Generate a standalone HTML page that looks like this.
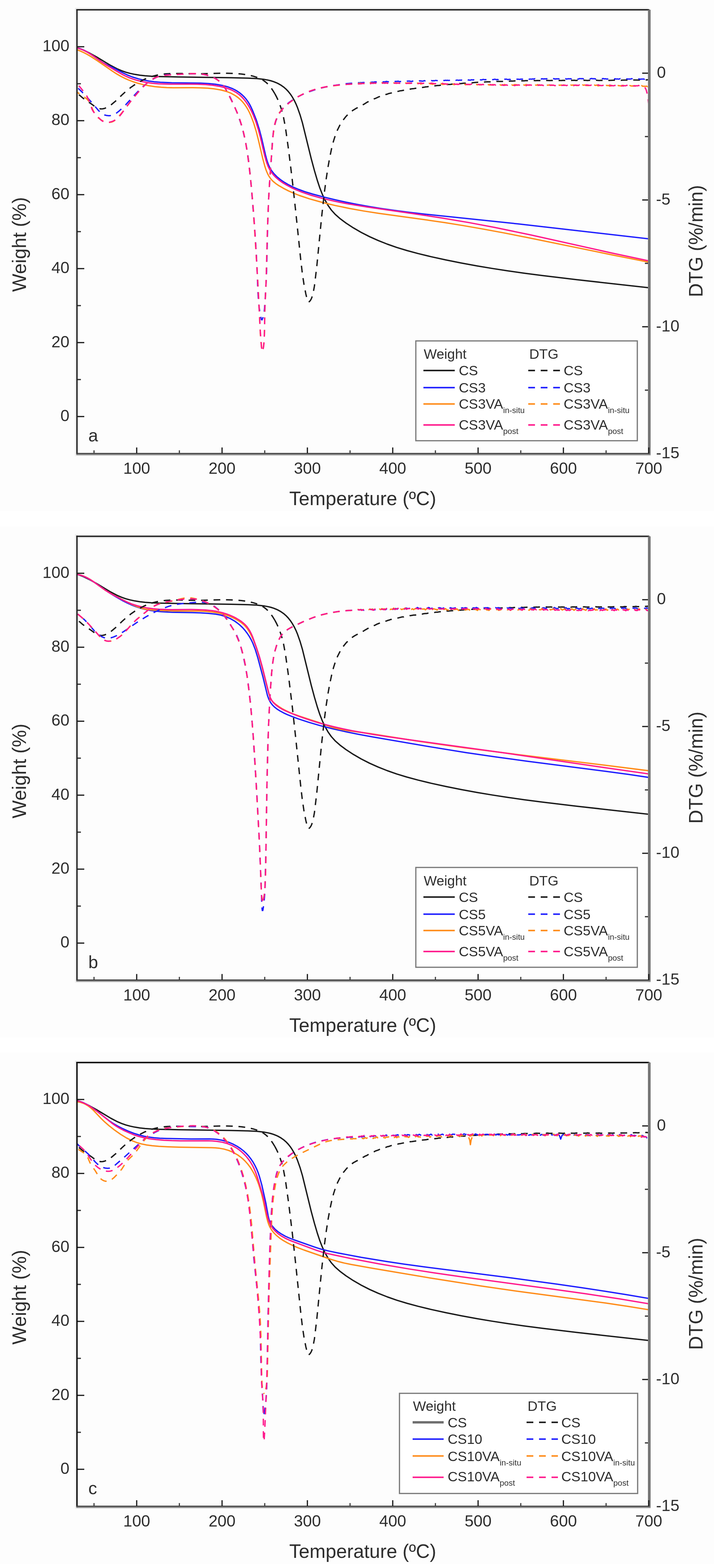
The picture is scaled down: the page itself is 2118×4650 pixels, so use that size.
<!DOCTYPE html>
<html><head><meta charset="utf-8"><title>TGA/DTG</title>
<style>
html,body{margin:0;padding:0;background:#fff}
body{width:2118px;height:4650px;overflow:hidden}
svg{display:block}
text{font-family:"Liberation Sans",Arial,sans-serif;fill:#2e2e2e}
.tl text{font-size:48px}
.at{font-size:57px}
.pl{font-size:52px}
.lg{font-size:41px}
.sub{font-size:24px}
</style></head><body>
<svg width="2118" height="4650" viewBox="0 0 2118 4650">
<defs><clipPath id="clip"><rect x="230" y="31" width="1692" height="1312"/></clipPath></defs>

<g transform="translate(0,0)">
<rect x="0" y="0" width="2118" height="1516" fill="#fdfdfd"/>
<rect x="222.3" y="23" width="1700" height="4" fill="#ececec"/>
<rect x="230.3" y="31" width="1692" height="4" fill="#ececec"/>
<rect x="222.3" y="27" width="4" height="1322" fill="#ececec"/>
<rect x="230.3" y="31" width="4" height="1312" fill="#ececec"/>
<rect x="222.3" y="1350" width="1708" height="3" fill="#f0f0f0"/>
<g clip-path="url(#clip)" fill="none" stroke-linejoin="round">
<path d="M228.3 141.3L247.0 148.4L266.6 157.9L285.8 168.5L328.4 194.1L349.2 204.9L361.0 209.9L373.1 214.1L386.0 217.6L400.0 220.6L414.8 222.9L430.7 224.7L448.3 226.0L468.4 226.9L529.9 228.3L685.6 230.4L735.8 231.7L761.8 233.0L784.4 235.6L794.2 237.4L803.3 239.5L811.6 242.1L819.7 245.3L827.1 248.9L833.8 252.8L841.3 258.1L848.4 264.2L854.9 271.0L861.1 278.7L867.0 287.5L872.6 297.2L877.7 307.6L882.6 319.3L890.0 340.3L897.1 364.3L923.2 470.5L932.7 505.8L941.3 535.0L948.7 557.3L956.2 576.4L964.3 593.6L972.9 608.8L982.9 623.0L993.9 635.2L1008.1 647.8L1026.2 661.3L1048.3 675.8L1071.5 689.2L1096.3 701.9L1122.1 713.4L1148.9 724.0L1177.1 733.8L1207.2 743.0L1240.1 751.9L1278.1 761.1L1322.2 770.8L1368.3 780.0L1416.0 788.7L1460.3 796.1L1506.5 803.2L1555.4 810.2L1607.7 817.1L1709.6 829.3L1924.5 853.2" stroke="#1a1a1a" stroke-width="4"/>
<path d="M228.3 141.9L235.4 143.7L242.6 146.2L249.5 149.3L257.0 153.2L270.1 161.4L299.5 182.2L307.4 187.1L314.7 191.1L339.8 202.9L365.1 216.3L376.5 221.8L393.2 228.5L410.7 233.9L425.5 237.4L441.0 240.3L457.6 242.5L475.8 244.1L509.6 245.6L594.6 246.6L618.2 247.8L639.1 249.8L658.7 253.1L675.4 257.4L690.4 263.2L697.5 266.7L703.9 270.5L711.3 275.6L718.3 281.4L724.9 287.8L730.8 294.8L735.8 301.8L740.5 309.5L745.1 318.5L750.0 329.4L760.3 355.7L769.4 384.5L776.1 410.0L787.7 460.3L792.2 476.9L795.2 485.4L798.2 492.7L801.7 499.6L805.5 505.9L812.7 515.2L821.3 524.0L831.7 532.6L843.3 540.6L856.7 548.4L871.0 555.5L886.6 562.0L904.0 568.3L927.4 575.5L958.7 583.9L991.2 591.8L1024.8 599.3L1058.5 606.0L1093.3 612.2L1129.7 618.1L1168.7 623.7L1212.2 629.4L1259.8 634.9L1535.0 663.8L1924.5 708.3" stroke="#1f1fff" stroke-width="4"/>
<path d="M228.3 147.4L238.5 151.4L248.5 156.0L258.6 161.2L269.4 167.5L288.7 180.0L334.0 211.4L346.2 219.2L357.8 225.9L369.7 232.1L381.9 237.5L394.9 242.4L408.2 246.7L424.6 250.9L441.8 254.3L459.7 256.9L478.7 258.8L494.7 259.7L512.7 260.2L571.9 260.1L594.3 260.5L616.2 261.6L636.1 263.6L654.9 266.7L671.3 271.0L685.7 276.7L698.4 283.8L705.7 289.0L712.6 294.9L718.9 301.3L724.6 308.2L730.0 315.9L735.2 324.4L740.0 333.7L744.7 344.3L752.8 365.9L760.3 390.7L766.3 414.3L779.2 469.3L785.8 493.7L788.7 502.7L792.0 511.0L795.3 518.1L799.0 524.4L804.4 531.8L810.4 538.1L818.0 544.3L827.6 550.8L841.1 558.6L855.8 566.1L871.3 573.0L887.5 579.5L917.8 589.6L954.3 599.8L994.0 609.4L1036.9 618.2L1078.1 625.6L1123.9 632.8L1269.3 652.8L1320.2 660.3L1373.4 668.9L1429.4 678.6L1493.2 690.4L1563.7 704.2L1819.7 756.7L1924.5 777.4" stroke="#ff8c1a" stroke-width="4"/>
<path d="M228.3 141.9L236.7 144.5L244.8 147.7L253.4 151.7L262.1 156.5L276.3 165.5L303.1 184.6L315.0 192.5L345.0 210.6L361.6 220.1L372.1 225.5L383.2 230.4L394.8 234.7L406.6 238.3L420.9 241.9L436.3 244.7L452.3 246.9L470.0 248.4L502.7 249.5L562.9 249.4L586.0 249.7L609.7 250.8L630.8 252.8L652.7 256.3L671.0 260.9L679.4 263.8L687.1 267.0L694.5 270.7L701.1 274.6L708.6 280.0L715.3 285.7L721.8 292.5L728.1 300.2L734.3 309.0L740.1 318.6L745.7 329.1L751.0 340.6L759.3 361.6L766.8 385.7L772.9 409.1L784.9 460.8L789.7 477.9L792.8 487.0L796.2 495.3L799.7 502.3L803.7 509.1L810.2 517.6L818.0 525.8L827.4 533.9L838.0 541.5L850.9 549.3L864.6 556.6L879.6 563.5L895.8 569.9L922.7 579.0L955.4 588.1L990.7 596.4L1029.3 604.1L1088.4 613.8L1225.3 633.4L1310.6 646.5L1391.3 660.1L1467.7 674.5L1574.6 696.8L1816.7 750.7L1924.5 773.6" stroke="#ff1a8c" stroke-width="4"/>
<path d="M228.3 273.4L235.1 281.5L243.7 289.1L251.6 295.0L269.8 307.4L283.1 317.2L288.3 320.2L293.6 322.0L299.0 323.0L304.4 322.8L310.2 321.5L316.7 318.8L323.3 315.1L330.8 309.9L342.6 300.0L364.1 279.4L374.6 270.0L387.5 259.7L400.7 250.5L414.0 242.5L427.4 235.7L440.6 230.2L454.2 225.7L466.1 222.8L478.7 220.6L492.0 219.1L506.9 218.1L530.0 217.9L589.7 218.9L652.3 217.3L674.1 217.2L702.8 218.3L715.6 219.4L727.9 221.1L739.8 223.2L751.0 225.9L760.7 228.8L769.2 232.0L776.4 235.5L782.7 239.4L788.3 243.6L793.8 248.6L799.3 254.6L804.6 261.3L810.3 269.7L815.5 278.2" stroke="#1a1a1a" stroke-width="4" stroke-dasharray="20 17" stroke-dashoffset="27.4"/>
<path d="M815.5 278.2L820.8 288.3L825.6 298.6L830.1 310.1L834.1 321.8L837.7 334.1L841.0 347.6L846.8 378.6L856.2 445.7L866.9 533.1L877.0 625.2L892.4 773.1L896.8 810.4L901.6 842.6L907.2 871.6L912.1 891.9L913.6 894.9L915.3 895.7L917.7 894.5L920.4 891.4L922.8 887.5L925.0 882.5L929.2 867.5L932.7 848.3L939.8 789.3L954.1 643.0L962.1 571.7L967.3 532.7L972.9 496.1L978.1 467.0L983.5 441.1L988.9 419.9L994.6 401.8L1001.0 385.6L1008.2 371.2L1016.8 357.5L1025.7 346.1L1034.7 336.7L1040.4 331.9L1046.8 327.3L1054.4 322.6L1079.4 309.2L1088.7 303.4L1102.5 296.5L1109.8 293.1L1113.9 291.8L1123.6 287.2L1144.3 280.3L1148.5 279.3L1152.8 277.5L1169.2 273.9L1173.5 272.3L1183.2 270.4L1186.7 269.3L1190.6 269.0L1203.8 266.6L1208.3 265.2L1212.2 265.0L1222.1 263.3L1225.5 263.1L1242.4 260.1L1246.8 260.1L1260.2 258.3L1263.7 257.5L1267.7 257.4L1271.7 256.5L1277.6 255.9L1281.6 255.9L1292.5 254.2L1298.5 253.5L1302.4 253.5L1306.4 252.7L1315.9 252.2L1327.3 250.5L1336.7 250.3L1340.7 249.5L1344.7 249.6L1361.6 247.6L1366.6 247.9L1375.5 246.8L1379.5 246.8L1383.0 246.1L1387.0 246.2L1396.4 245.4L1400.9 245.7L1404.4 245.0L1417.4 244.0L1421.9 244.3L1425.8 243.8L1435.3 243.7L1439.3 242.9L1446.3 242.6L1456.2 242.8L1460.2 242.1L1470.2 241.9L1473.7 241.4L1490.7 241.4L1495.2 240.7L1512.1 240.7L1516.1 240.3L1520.1 240.6L1529.6 239.7L1541.1 240.1L1550.6 239.4L1554.6 239.8L1558.5 239.3L1564.5 239.2L1575.5 239.6L1579.5 239.1L1585.5 238.9L1589.5 239.2L1593.0 238.8L1610.0 239.1L1614.5 238.4L1631.5 239.0L1635.5 238.6L1645.0 238.7L1648.9 238.2L1653.4 238.7L1665.9 238.7L1669.9 238.2L1673.9 238.6L1683.4 238.3L1687.9 238.8L1704.4 238.1L1708.4 238.7L1712.4 238.3L1721.9 238.7L1733.9 238.1L1743.4 238.8L1746.9 238.3L1764.3 238.5L1768.3 238.0L1777.8 238.7L1781.8 238.2L1785.3 238.4L1789.3 238.0L1798.8 238.4L1802.8 238.0L1807.3 238.5L1823.8 237.8L1828.2 238.3L1837.7 237.9L1841.7 238.2L1845.2 237.7L1852.2 237.6L1858.7 237.6L1862.7 238.2L1866.7 237.6L1876.1 237.6L1879.6 237.2L1896.6 237.5L1901.6 236.8L1918.0 237.0L1922.0 236.5L1924.5 236.6" stroke="#1a1a1a" stroke-width="4" stroke-dasharray="20 17" stroke-dashoffset="0.0"/>
<path d="M228.3 258.4L241.7 271.2L255.5 285.5L271.1 302.9L291.5 326.9L297.8 333.3L303.3 337.5L309.7 340.7L316.6 342.6L323.6 343.3L330.7 342.4L337.9 339.8L345.6 335.3L353.5 329.1L362.6 320.8L372.7 310.8L403.2 277.6L414.5 265.8L425.7 255.3L436.7 246.1L446.9 238.8L457.2 232.7L467.1 228.0L477.0 224.7L486.2 222.7L497.1 221.6L530.1 220.8L566.4 219.0L585.7 219.0L602.3 220.6L611.8 222.3L621.1 224.8L629.1 227.7L636.7 231.3L643.4 235.4L649.2 239.8L654.9 245.2L660.7 251.9L666.0 259.2L671.2 267.2L683.6 289.9L695.0 314.0L705.3 339.4L713.9 364.3L721.4 390.6L727.7 417.7L733.1 446.6L738.1 480.7L742.4 520.1L746.2 563.1L754.2 663.3L757.9 714.9L760.7 760.7L762.7 802.8L765.0 864.5L766.9 893.5L768.7 911.2L771.1 927.0L774.8 945.2L775.7 948.4L776.4 949.2" stroke="#1f1fff" stroke-width="4" stroke-dasharray="20 17" stroke-dashoffset="32.0"/>
<path d="M776.4 949.2L777.1 948.9L778.0 947.4L780.2 941.2L782.4 932.4L783.8 923.6L784.8 913.9L788.5 855.6L790.8 804.2L794.1 663.0L796.8 590.1L799.1 550.2L804.4 476.6L807.5 426.3L809.1 408.4L811.0 393.0L814.2 374.7L818.3 359.1L823.5 345.2L829.7 333.5L837.5 322.7L847.1 312.6L858.7 302.9L872.1 293.8L881.3 288.3L891.1 283.2L901.5 278.3L912.1 273.8L934.7 266.0L959.2 259.5L990.0 253.5L1027.0 248.3L1040.9 247.0L1044.8 247.1L1048.3 246.5L1051.8 246.6L1061.3 245.0L1065.7 245.7L1069.2 245.0L1072.7 245.2L1076.2 244.7L1079.7 244.8L1082.7 244.1L1086.7 244.7L1090.7 243.2L1096.7 243.5L1100.7 244.5L1104.2 243.4L1108.2 243.9L1111.7 242.8L1114.7 243.1L1117.7 242.8L1121.2 243.4L1125.2 242.1L1128.7 243.1L1132.2 243.0L1135.2 243.4L1138.7 242.4L1142.7 242.7L1146.2 241.4L1149.7 242.3L1155.7 242.6L1160.2 241.6L1163.7 242.7L1167.2 241.9L1170.2 242.1L1174.2 241.3L1177.2 241.5L1180.7 240.7L1185.2 242.2L1188.2 241.7L1191.7 241.7L1194.7 241.0L1198.2 241.6L1202.2 240.6L1205.7 241.3L1209.7 240.4L1215.7 240.5L1219.7 241.8L1223.2 240.6L1226.7 240.7L1230.2 240.0L1233.2 240.4L1236.7 239.8L1240.7 240.8L1244.7 239.7L1254.2 240.8L1258.2 239.3L1261.7 239.7L1265.2 239.0L1268.7 239.7L1272.2 239.6L1275.2 240.3L1279.2 238.9L1283.1 239.7L1286.1 239.3L1289.1 239.4L1292.6 238.4L1296.6 239.1L1300.1 238.4L1304.6 239.6L1310.1 239.3L1314.1 238.0L1317.6 238.9L1321.1 238.1L1324.6 238.5L1328.1 238.1L1331.1 238.6L1335.1 237.9L1339.1 239.2L1342.6 238.1L1348.5 237.1L1352.5 238.1L1356.0 237.4L1360.0 238.3L1363.0 237.7L1366.5 237.8L1369.5 237.4L1373.5 238.3L1377.5 236.7L1381.0 237.0L1383.5 236.8L1387.5 237.6L1391.0 237.1L1394.5 238.0L1398.4 236.6L1401.9 236.9L1404.9 236.7L1407.9 237.2L1411.9 236.0L1415.9 236.9L1418.9 236.5L1422.4 237.2L1425.9 236.8L1428.9 237.1L1433.4 235.4L1437.4 236.4L1440.3 236.1L1443.3 236.5L1446.8 235.8L1450.8 236.7L1454.3 235.9L1457.8 236.6L1464.3 235.8L1467.8 234.8L1472.3 236.2L1475.3 235.7L1478.3 236.2L1481.7 235.6L1485.2 236.0L1488.7 235.0L1492.7 236.0L1496.7 234.9L1502.2 234.7L1506.7 236.1L1510.2 235.3L1513.7 235.8L1517.1 234.8L1520.6 234.9L1523.1 234.4L1527.1 235.5L1531.6 234.4L1534.6 235.0L1538.1 234.9L1541.6 235.5L1545.1 234.6L1548.6 235.1L1552.6 233.8L1556.0 234.4L1559.0 234.5L1562.0 235.3L1566.0 234.1L1570.0 235.0L1573.0 234.4L1577.0 234.7L1580.0 234.1L1583.5 234.4L1587.0 233.3L1591.0 234.7L1596.9 234.9L1600.9 233.8L1604.4 234.5L1607.9 233.5L1611.9 234.3L1614.9 233.8L1618.4 234.0L1621.4 233.4L1625.9 235.0L1629.4 234.1L1632.3 234.2L1635.8 233.4L1639.3 233.8L1642.8 233.2L1646.8 234.5L1650.3 233.7L1653.3 233.9L1656.3 233.6L1660.3 234.6L1664.3 233.3L1667.8 233.7L1671.3 233.0L1674.3 233.6L1677.7 233.5L1681.2 234.7L1685.2 233.4L1688.7 233.8L1692.2 233.5L1695.2 233.9L1699.2 233.0L1702.7 233.8L1706.7 233.0L1709.7 233.9L1715.7 234.5L1720.2 232.9L1723.6 233.6L1727.1 233.1L1730.6 233.7L1733.6 233.3L1737.1 234.0L1741.1 233.1L1745.1 234.3L1751.1 233.7L1755.1 232.7L1758.6 233.7L1762.1 233.1L1766.1 234.2L1769.1 233.8L1772.6 233.9L1775.6 233.2L1780.1 234.3L1783.6 233.2L1786.5 233.4L1789.5 233.0L1793.5 234.0L1797.0 233.6L1800.5 234.7L1805.0 233.5L1810.5 233.2L1814.5 234.3L1818.5 233.2L1821.5 234.0L1825.0 233.7L1828.5 234.4L1832.0 234.1L1835.0 234.8L1840.0 233.1L1843.0 233.7L1846.0 233.7L1849.0 234.5L1853.0 233.8L1856.5 234.8L1860.5 233.9L1863.5 234.6L1867.0 234.3L1870.0 234.6L1874.0 233.2L1878.0 234.6L1881.0 234.4L1884.5 235.1L1888.0 234.6L1891.5 235.0L1895.0 233.9L1899.0 235.0L1902.5 234.5L1905.5 234.6L1908.5 234.1L1913.0 235.6L1916.0 235.0L1920.0 235.6L1924.5 234.9" stroke="#1f1fff" stroke-width="4" stroke-dasharray="20 17" stroke-dashoffset="10.3"/>
<path d="M228.3 273.4L251.4 288.6L257.3 293.4L262.0 298.3L264.9 302.2L267.7 307.3L275.5 326.2L279.3 333.9L285.0 342.3L291.5 349.4L299.0 355.3L307.5 359.8L316.2 362.4L324.5 363.0L330.6 362.1L336.4 359.8L341.8 356.2L347.8 350.6L363.5 332.1L392.9 294.2L405.3 278.8L418.5 263.7L431.1 250.9L440.6 242.6L449.6 236.2L458.2 231.6L467.7 227.9L475.6 225.7L484.8 224.0L494.7 222.7L506.8 221.8L568.3 218.4L584.7 218.6L598.9 219.9L609.5 221.8L619.0 224.3L628.3 227.8L636.8 231.9L644.9 236.9L652.1 242.3L658.5 248.5L663.9 255.1L668.0 261.3L672.4 269.2L691.4 307.1L702.1 330.7L710.3 352.1L717.7 375.3L724.0 399.9L729.5 426.8L734.5 456.9L738.8 489.2L742.9 525.9L746.6 564.7L750.1 606.9L755.2 681.0L764.0 822.3L767.4 884.6L772.2 990.0L773.8 1010.9L775.7 1028.9L776.9 1035.5L777.7 1037.1L778.6 1037.8" stroke="#ff8c1a" stroke-width="4" stroke-dasharray="20 17" stroke-dashoffset="11.1"/>
<path d="M778.6 1037.8L779.5 1036.9L780.4 1034.6L781.9 1025.9L783.2 1010.9L784.3 990.8L785.0 967.9L785.5 920.4L789.4 833.9L793.3 680.0L796.7 593.0L799.5 544.1L807.0 435.8L808.7 415.5L810.6 398.0L813.8 377.0L817.3 361.1L821.8 347.8L827.4 336.4L834.1 326.9L842.9 317.6L856.6 305.9L871.7 294.7L881.1 288.6L890.7 283.1L900.1 278.2L909.7 273.9L919.9 269.9L930.7 266.3L941.7 263.2L953.8 260.4L968.9 257.4L985.2 254.9L1008.6 252.2L1030.9 250.1L1034.9 249.3L1038.9 249.6L1042.4 249.1L1045.9 249.2L1049.3 248.7L1052.3 248.8L1055.8 247.9L1060.3 248.8L1063.8 247.5L1069.7 246.8L1073.2 248.0L1077.2 247.1L1080.7 248.2L1084.7 246.6L1087.7 246.6L1090.2 245.9L1091.2 246.0L1094.7 247.6L1098.7 245.5L1102.1 246.4L1105.1 246.1L1108.6 247.2L1112.1 246.3L1115.1 247.3L1116.1 247.1L1118.6 245.2L1120.1 244.8L1123.1 245.6L1126.1 245.8L1129.1 246.9L1133.1 245.3L1137.1 246.7L1140.6 245.7L1143.6 246.5L1147.0 245.9L1150.0 246.4L1153.5 244.4L1154.5 244.2L1158.0 246.3L1161.5 246.3L1164.0 246.9L1168.0 245.8L1171.0 246.7L1172.0 246.7L1175.5 245.3L1179.5 246.7L1182.5 246.1L1185.5 246.1L1188.5 245.1L1190.0 245.6L1192.5 247.5L1193.5 247.7L1196.5 246.7L1199.5 247.3L1203.0 246.2L1206.5 246.6L1210.0 245.6L1214.0 247.8L1217.5 246.6L1220.5 246.9L1223.5 246.6L1227.5 248.5L1231.0 247.0L1235.0 247.9L1239.0 246.5L1241.5 247.0L1244.5 247.0L1248.5 249.2L1249.5 249.0L1252.5 247.4L1256.0 248.2L1259.0 247.9L1262.5 248.7L1266.4 247.6L1269.4 248.7L1273.4 247.1L1276.9 248.6L1279.9 249.1L1282.9 250.1L1283.9 249.9L1287.4 248.0L1290.9 249.2L1294.4 248.3L1297.4 249.1L1300.9 248.8L1304.4 249.7L1307.9 248.2L1308.9 248.4L1312.4 250.5L1318.4 250.1L1321.9 248.6L1325.4 249.7L1328.9 248.7L1333.4 250.6L1336.4 250.1L1339.4 250.3L1342.9 249.2L1346.9 251.3L1350.4 249.9L1353.9 250.1L1356.9 249.3L1360.4 250.3L1363.9 249.7L1367.9 252.0L1371.9 250.4L1374.9 250.4L1377.9 249.9L1381.4 251.4L1385.3 249.8L1388.8 251.0L1392.3 250.1L1395.8 251.1L1398.8 251.0L1402.3 252.5L1403.3 252.2L1405.8 250.3L1406.8 249.9L1409.8 250.6L1413.3 250.5L1416.3 251.5L1420.3 250.6L1423.8 252.0L1427.8 250.5L1431.3 251.9L1433.8 251.7L1436.8 252.1L1441.3 249.8L1445.3 251.4L1448.3 251.0L1451.8 252.1L1455.2 251.7L1458.2 252.3L1462.2 250.5L1466.2 252.3L1469.2 251.5L1472.7 251.4L1475.7 250.4L1479.7 252.2L1483.2 251.4L1487.2 252.9L1490.2 251.9L1493.7 251.6L1496.7 250.4L1500.7 252.6L1504.7 251.3L1507.7 251.8L1510.7 251.4L1514.7 252.6L1518.1 251.7L1521.6 253.1L1522.6 252.9L1525.1 251.2L1526.6 250.9L1531.6 251.0L1535.6 253.0L1539.6 251.6L1542.6 252.7L1546.1 251.8L1549.6 252.3L1552.6 251.8L1556.6 252.8L1560.6 250.5L1564.1 251.9L1567.1 252.1L1570.1 253.2L1574.0 251.9L1578.0 252.8L1581.5 251.1L1585.0 252.2L1588.0 252.1L1591.0 252.7L1595.0 250.9L1599.0 253.0L1602.5 252.5L1605.5 253.1L1609.0 252.0L1612.5 252.4L1616.0 250.7L1620.5 253.0L1623.5 252.5L1626.5 252.6L1629.9 251.7L1633.9 253.4L1637.4 252.1L1640.9 252.9L1644.4 251.7L1647.4 251.9L1650.4 251.2L1651.4 251.5L1654.9 253.9L1658.9 252.4L1661.9 252.8L1664.9 252.1L1668.4 253.0L1671.9 251.8L1675.9 253.2L1679.9 251.6L1685.8 252.5L1689.3 254.2L1690.3 254.0L1693.3 252.2L1696.8 252.8L1700.3 251.9L1703.8 252.6L1706.8 252.3L1710.3 253.7L1711.3 253.5L1713.8 251.9L1714.8 251.8L1718.3 253.4L1721.3 253.3L1723.8 253.8L1725.3 253.4L1727.8 252.0L1728.8 252.0L1731.8 252.9L1735.3 251.8L1739.3 253.4L1742.2 253.4L1744.7 254.0L1749.2 252.1L1753.2 253.9L1756.2 253.0L1759.7 253.3L1762.7 252.3L1766.7 253.3L1769.7 252.3L1770.7 252.5L1774.2 254.7L1777.7 253.8L1780.7 253.5L1783.7 252.3L1787.7 254.0L1791.2 252.8L1795.2 253.9L1798.2 253.2L1801.7 253.8L1804.6 253.3L1808.6 255.4L1809.6 255.2L1812.6 253.3L1815.6 253.4L1818.6 252.9L1822.6 254.3L1826.1 253.5L1829.6 255.1L1834.1 253.6L1836.6 254.3L1839.6 254.2L1842.6 255.3L1843.6 255.3L1847.6 253.0L1851.1 254.2L1854.1 253.9L1857.6 255.1L1861.1 254.8L1864.1 255.9L1865.1 255.7L1868.6 253.7L1872.1 255.0L1875.1 254.8L1878.0 255.3L1882.0 253.9L1885.5 255.5L1889.5 254.9L1893.0 256.3L1896.0 255.8L1899.0 255.9L1903.0 253.9L1907.5 256.1L1910.5 255.5L1913.5 256.1L1917.0 255.5L1920.5 256.7L1924.5 255.7" stroke="#ff8c1a" stroke-width="4" stroke-dasharray="20 17" stroke-dashoffset="33.7"/>
<path d="M228.3 247.1L248.8 272.3L253.8 279.2L258.1 285.9L261.4 292.1L264.0 298.1L272.6 322.9L275.4 328.6L278.7 333.3L295.0 351.5L301.5 357.5L305.3 359.9L308.8 361.4L313.1 362.5L317.9 363.0L325.8 362.2L333.9 359.8L341.7 355.7L349.1 350.0L354.7 344.4L360.5 337.4L381.4 308.4L395.6 290.1L409.7 273.6L424.8 257.5L436.6 246.1L447.3 237.7L457.5 231.8L468.8 227.4L480.2 224.6L494.0 222.7L554.5 219.0L568.1 218.5L580.0 218.4L590.4 218.9L600.1 220.0L610.7 222.0L620.2 224.7L629.5 228.3L638.0 232.5L646.1 237.6L653.1 243.2L659.4 249.5L664.6 256.1L672.4 269.4L693.4 311.4L703.1 332.9L710.7 352.4L717.6 374.2L723.6 397.8L728.8 423.1L733.5 452.2L738.4 489.4L743.6 535.1L748.0 581.4L752.2 630.7L756.0 684.0L759.6 743.8L772.4 986.0L775.8 1030.3L776.9 1035.7L777.7 1037.2L778.7 1037.8" stroke="#ff1a8c" stroke-width="4" stroke-dasharray="20 17" stroke-dashoffset="27.9"/>
<path d="M778.7 1037.8L779.6 1037.1L780.4 1035.3L781.9 1028.2L783.0 1016.7L784.0 1000.2L784.7 973.5L785.4 922.3L789.3 836.4L793.3 680.6L797.1 586.4L801.4 514.3L807.0 443.2L809.7 403.5L811.3 387.2L814.1 371.3L817.8 358.0L822.7 346.4L829.3 335.1L837.8 323.8L848.5 312.7L860.7 302.3L874.4 292.7L886.1 285.7L898.2 279.4L910.6 273.8L923.7 268.7L937.0 264.4L951.0 260.7L965.5 257.5L981.2 254.9L999.4 252.5L1025.8 250.1L1035.7 250.0L1039.7 249.3L1043.2 249.4L1047.2 248.6L1050.7 249.0L1056.7 248.9L1060.2 248.0L1064.7 249.1L1068.2 248.4L1071.2 248.5L1074.7 247.4L1078.2 247.6L1081.2 246.7L1085.7 248.6L1089.2 247.7L1092.2 247.8L1095.2 247.0L1099.2 248.2L1102.7 246.7L1106.2 247.2L1110.2 246.1L1113.2 246.7L1116.2 246.6L1120.2 248.5L1124.2 246.6L1127.2 246.8L1130.7 246.1L1134.2 246.9L1137.6 245.9L1141.1 247.0L1145.1 245.8L1148.6 246.9L1151.6 247.0L1154.6 247.8L1159.1 245.5L1162.6 246.2L1166.1 245.6L1169.1 246.6L1172.6 246.4L1175.6 247.3L1180.1 245.8L1184.1 247.2L1186.6 246.8L1190.1 246.8L1193.6 245.2L1197.1 246.4L1201.1 245.9L1205.1 247.6L1207.6 247.1L1211.1 247.2L1214.6 245.7L1218.5 247.3L1222.0 246.3L1225.0 246.6L1228.5 246.0L1232.0 247.1L1235.5 246.7L1239.5 248.4L1243.0 247.0L1249.0 246.0L1253.0 247.6L1257.0 246.7L1260.5 247.7L1264.0 247.1L1267.0 247.9L1270.5 247.5L1274.0 248.7L1278.5 246.5L1281.5 247.0L1284.4 247.0L1287.9 248.5L1291.9 247.9L1294.9 248.9L1299.4 247.6L1302.4 248.3L1305.4 248.1L1308.9 248.7L1312.9 247.0L1316.4 248.5L1319.9 248.5L1323.4 249.6L1326.4 249.0L1329.9 249.4L1333.9 247.6L1337.9 249.1L1340.9 248.9L1343.9 249.3L1347.4 248.3L1351.3 250.0L1354.8 249.5L1358.3 250.5L1361.8 249.4L1364.8 249.3L1368.3 248.2L1372.8 250.5L1375.8 249.9L1379.3 250.4L1382.3 249.8L1386.3 250.8L1389.8 249.9L1393.3 251.0L1397.3 249.5L1402.8 249.6L1407.3 251.9L1410.8 250.8L1414.3 251.4L1418.3 250.4L1421.2 250.9L1424.7 250.4L1428.2 251.6L1432.2 250.1L1435.7 251.3L1438.7 251.5L1441.7 252.6L1445.7 251.2L1449.7 251.6L1453.2 250.3L1456.2 251.3L1459.7 251.5L1462.7 252.5L1466.2 251.1L1467.2 251.0L1469.7 252.2L1471.2 252.5L1473.7 252.1L1477.2 252.5L1480.7 251.3L1484.2 251.8L1487.7 250.6L1492.2 252.9L1497.6 252.9L1501.6 251.6L1505.1 252.8L1508.6 251.8L1512.6 252.4L1515.6 251.6L1519.1 252.1L1522.1 251.6L1526.6 253.9L1530.1 252.7L1533.1 252.6L1536.6 251.6L1540.1 252.5L1543.6 251.7L1547.6 253.1L1551.1 252.1L1554.1 252.6L1557.1 252.5L1561.1 254.0L1565.1 252.0L1568.6 252.3L1571.6 251.6L1575.1 252.6L1578.6 252.5L1582.0 253.9L1586.0 252.2L1589.5 253.0L1592.5 252.8L1595.5 253.3L1600.0 251.7L1603.5 252.6L1607.0 251.9L1610.5 253.4L1613.5 253.4L1616.5 253.9L1621.0 251.7L1624.5 252.9L1628.0 252.4L1631.5 252.8L1634.5 252.1L1638.5 253.1L1641.5 252.3L1646.0 254.1L1649.0 253.2L1652.0 252.9L1655.5 251.4L1659.5 253.0L1663.0 252.4L1666.5 253.4L1669.9 252.8L1672.9 253.3L1676.4 252.5L1680.4 254.0L1684.4 252.2L1687.4 252.2L1689.9 251.7L1693.9 253.4L1697.9 252.9L1701.4 254.1L1705.4 252.5L1708.4 252.8L1711.4 252.4L1714.4 253.5L1715.4 253.5L1718.4 252.0L1719.4 251.8L1722.4 252.8L1725.9 252.7L1728.9 253.8L1732.4 253.3L1735.9 254.0L1740.4 251.7L1743.4 252.6L1746.4 252.7L1749.8 253.6L1753.8 252.4L1757.3 253.7L1760.8 253.0L1764.8 253.9L1767.8 253.2L1770.8 253.3L1774.8 251.5L1778.8 253.5L1781.8 253.4L1784.8 254.0L1788.8 253.1L1792.3 253.9L1795.8 252.7L1799.8 253.9L1802.8 253.0L1805.8 253.0L1809.3 252.3L1813.8 254.6L1816.7 253.9L1820.2 254.4L1823.7 253.3L1827.2 253.5L1830.2 252.7L1834.2 254.4L1838.7 253.2L1841.2 253.7L1844.2 253.6L1848.2 255.2L1851.7 254.0L1855.7 254.4L1859.2 253.0L1862.2 253.6L1865.2 253.7L1869.2 255.4L1873.1 253.9L1876.6 254.9L1879.6 254.5L1883.1 255.2L1886.6 254.1L1890.1 254.8L1894.1 253.4L1897.6 255.1L1900.6 255.5L1903.6 256.4L1907.8 255.6L1914.4 261.3L1917.0 267.3L1920.1 279.4L1921.9 289.9L1924.0 307.5L1924.5 299.8" stroke="#ff1a8c" stroke-width="4" stroke-dasharray="20 17" stroke-dashoffset="33.7"/>
</g>
<rect x="226.3" y="27" width="1700" height="4" fill="#1e1e1e"/>
<rect x="226.3" y="27" width="4" height="1320" fill="#1e1e1e"/>
<rect x="1922" y="29" width="8" height="1321" fill="#767676"/>
<rect x="226.3" y="1343.2" width="1700" height="3.4" fill="#3a3a3a"/>
<rect x="226.3" y="1346.6" width="1703.7" height="3.4" fill="#8a8a8a"/>
<rect x="277.1" y="1335.5" width="3.6" height="8" fill="#444"/>
<rect x="403.7" y="1327" width="3.6" height="17" fill="#1e1e1e"/>
<rect x="530.3" y="1335.5" width="3.6" height="8" fill="#444"/>
<rect x="656.9" y="1327" width="3.6" height="17" fill="#1e1e1e"/>
<rect x="783.5" y="1335.5" width="3.6" height="8" fill="#444"/>
<rect x="910.0" y="1327" width="3.6" height="17" fill="#1e1e1e"/>
<rect x="1036.6" y="1335.5" width="3.6" height="8" fill="#444"/>
<rect x="1163.2" y="1327" width="3.6" height="17" fill="#1e1e1e"/>
<rect x="1289.8" y="1335.5" width="3.6" height="8" fill="#444"/>
<rect x="1416.4" y="1327" width="3.6" height="17" fill="#1e1e1e"/>
<rect x="1543.0" y="1335.5" width="3.6" height="8" fill="#444"/>
<rect x="1669.5" y="1327" width="3.6" height="17" fill="#1e1e1e"/>
<rect x="1796.1" y="1335.5" width="3.6" height="8" fill="#444"/>
<rect x="1922.7" y="1327" width="3.6" height="17" fill="#1e1e1e"/>
<rect x="230" y="1233.5" width="20" height="3.6" fill="#1e1e1e"/>
<rect x="230" y="1123.8" width="10" height="3.6" fill="#333"/>
<rect x="230" y="1014.2" width="20" height="3.6" fill="#1e1e1e"/>
<rect x="230" y="904.5" width="10" height="3.6" fill="#333"/>
<rect x="230" y="794.8" width="20" height="3.6" fill="#1e1e1e"/>
<rect x="230" y="685.1" width="10" height="3.6" fill="#333"/>
<rect x="230" y="575.5" width="20" height="3.6" fill="#1e1e1e"/>
<rect x="230" y="465.8" width="10" height="3.6" fill="#333"/>
<rect x="230" y="356.1" width="20" height="3.6" fill="#1e1e1e"/>
<rect x="230" y="246.5" width="10" height="3.6" fill="#333"/>
<rect x="230" y="136.8" width="20" height="3.6" fill="#1e1e1e"/>
<rect x="1905" y="215.2" width="17" height="3.6" fill="#1e1e1e"/>
<rect x="1913" y="403.2" width="9" height="3.6" fill="#333"/>
<rect x="1905" y="591.2" width="17" height="3.6" fill="#1e1e1e"/>
<rect x="1913" y="779.2" width="9" height="3.6" fill="#333"/>
<rect x="1905" y="967.2" width="17" height="3.6" fill="#1e1e1e"/>
<rect x="1913" y="1155.2" width="9" height="3.6" fill="#333"/>
<g class="tl">
<text x="405.5" y="1405" text-anchor="middle">100</text>
<text x="658.7" y="1405" text-anchor="middle">200</text>
<text x="911.8" y="1405" text-anchor="middle">300</text>
<text x="1165.0" y="1405" text-anchor="middle">400</text>
<text x="1418.2" y="1405" text-anchor="middle">500</text>
<text x="1671.3" y="1405" text-anchor="middle">600</text>
<text x="1924.5" y="1405" text-anchor="middle">700</text>
<text x="206" y="1248.8" text-anchor="end">0</text>
<text x="206" y="1029.5" text-anchor="end">20</text>
<text x="206" y="810.1" text-anchor="end">40</text>
<text x="206" y="590.8" text-anchor="end">60</text>
<text x="206" y="371.4" text-anchor="end">80</text>
<text x="206" y="152.1" text-anchor="end">100</text>
<text x="1948.5" y="230.5">0</text>
<text x="1946" y="606.5">-5</text>
<text x="1946" y="982.5">-10</text>
<text x="1946" y="1358.5">-15</text>
</g>
<text class="at" x="1076" y="1498" text-anchor="middle">Temperature (ºC)</text>
<text class="at" transform="translate(76.5,725) rotate(-90)" text-anchor="middle">Weight (%)</text>
<text class="at" transform="translate(2083.5,715) rotate(-90)" text-anchor="middle">DTG (%/min)</text>
<text class="pl" x="262" y="1309">a</text>
<rect x="1233.5" y="1011" width="657" height="296" fill="#fff" stroke="#7a7a7a" stroke-width="3.6"/>
<text class="lg" x="1257" y="1064.4">Weight</text>
<text class="lg" x="1570" y="1064.4">DTG</text>
<line x1="1256" y1="1098.8" x2="1349" y2="1098.8" stroke="#1a1a1a" stroke-width="4.5"/>
<line x1="1567" y1="1098.8" x2="1662" y2="1098.8" stroke="#1a1a1a" stroke-width="4.5" stroke-dasharray="20 17"/>
<text class="lg" x="1361" y="1113">CS</text>
<text class="lg" x="1672" y="1113">CS</text>
<line x1="1256" y1="1149.5" x2="1349" y2="1149.5" stroke="#1f1fff" stroke-width="4.5"/>
<line x1="1567" y1="1149.5" x2="1662" y2="1149.5" stroke="#1f1fff" stroke-width="4.5" stroke-dasharray="20 17"/>
<text class="lg" x="1361" y="1164.2">CS3</text>
<text class="lg" x="1672" y="1164.2">CS3</text>
<line x1="1256" y1="1198" x2="1349" y2="1198" stroke="#ff8c1a" stroke-width="4.5"/>
<line x1="1567" y1="1198" x2="1662" y2="1198" stroke="#ff8c1a" stroke-width="4.5" stroke-dasharray="20 17"/>
<text class="lg" x="1361" y="1212.4">CS3VA<tspan class="sub" dy="13">in-situ</tspan></text>
<text class="lg" x="1672" y="1212.4">CS3VA<tspan class="sub" dy="13">in-situ</tspan></text>
<line x1="1256" y1="1260.3" x2="1349" y2="1260.3" stroke="#ff1a8c" stroke-width="4.5"/>
<line x1="1567" y1="1260.3" x2="1662" y2="1260.3" stroke="#ff1a8c" stroke-width="4.5" stroke-dasharray="20 17"/>
<text class="lg" x="1361" y="1274">CS3VA<tspan class="sub" dy="13">post</tspan></text>
<text class="lg" x="1672" y="1274">CS3VA<tspan class="sub" dy="13">post</tspan></text>
</g>
<g transform="translate(0,1561.5)">
<rect x="0" y="0" width="2118" height="1516" fill="#fdfdfd"/>
<rect x="222.3" y="23" width="1700" height="4" fill="#ececec"/>
<rect x="230.3" y="31" width="1692" height="4" fill="#ececec"/>
<rect x="222.3" y="27" width="4" height="1322" fill="#ececec"/>
<rect x="230.3" y="31" width="4" height="1312" fill="#ececec"/>
<rect x="222.3" y="1350" width="1708" height="3" fill="#f0f0f0"/>
<g clip-path="url(#clip)" fill="none" stroke-linejoin="round">
<path d="M228.3 141.3L247.0 148.4L266.6 157.9L285.8 168.5L328.4 194.1L349.2 204.9L361.0 209.9L373.1 214.1L386.0 217.6L400.0 220.6L414.8 222.9L430.7 224.7L448.3 226.0L468.4 226.9L529.9 228.3L685.6 230.4L735.8 231.7L761.8 233.0L784.4 235.6L794.2 237.4L803.3 239.5L811.6 242.1L819.7 245.3L827.1 248.9L833.8 252.8L841.3 258.1L848.4 264.2L854.9 271.0L861.1 278.7L867.0 287.5L872.6 297.2L877.7 307.6L882.6 319.3L890.0 340.3L897.1 364.3L923.2 470.5L932.7 505.8L941.3 535.0L948.7 557.3L956.2 576.4L964.3 593.6L972.9 608.8L982.9 623.0L993.9 635.2L1008.1 647.8L1026.2 661.3L1048.3 675.8L1071.5 689.2L1096.3 701.9L1122.1 713.4L1148.9 724.0L1177.1 733.8L1207.2 743.0L1240.1 751.9L1278.1 761.1L1322.2 770.8L1368.3 780.0L1416.0 788.7L1460.3 796.1L1506.5 803.2L1555.4 810.2L1607.7 817.1L1709.6 829.3L1924.5 853.2" stroke="#1a1a1a" stroke-width="4"/>
<path d="M228.3 141.9L237.8 144.2L246.9 147.4L256.0 151.4L265.7 156.5L280.8 166.0L310.0 186.8L324.9 196.8L344.9 209.1L364.5 220.2L378.4 227.2L391.2 233.0L403.2 237.7L415.5 241.7L429.3 245.4L444.4 248.4L460.6 250.8L478.0 252.6L510.1 254.2L570.7 255.2L594.6 255.9L618.3 257.4L639.5 259.7L654.7 262.5L669.0 266.9L683.2 273.0L696.2 280.5L704.3 286.3L712.4 293.0L720.0 300.3L727.3 308.6L733.6 317.0L739.7 326.2L745.1 335.7L750.0 346.0L757.4 365.1L764.7 389.0L779.9 445.8L793.4 501.1L797.7 512.7L802.7 522.0L807.9 528.9L814.1 535.1L821.8 541.2L831.0 547.1L841.2 552.6L852.6 557.9L866.3 563.4L884.2 570.1L915.5 580.4L948.8 590.1L985.9 599.5L1025.7 608.5L1063.9 616.2L1107.6 624.3L1277.4 653.4L1381.3 670.2L1472.5 683.6L1564.0 695.9L1797.6 726.0L1864.3 735.1L1924.5 744.0" stroke="#1f1fff" stroke-width="4"/>
<path d="M228.3 141.9L236.0 143.4L243.4 145.4L250.9 148.3L258.6 151.9L266.3 156.3L275.1 162.0L309.8 187.2L329.4 199.0L362.9 216.9L388.4 229.6L405.2 237.0L420.1 242.2L430.2 244.7L440.1 246.3L452.6 247.5L472.7 248.8L514.3 250.2L590.4 250.5L611.4 251.6L629.7 253.4L641.0 255.2L652.1 257.4L662.6 260.0L672.5 263.0L681.8 266.5L691.0 270.5L700.0 275.0L708.4 280.0L716.0 285.2L722.4 290.4L727.7 295.7L732.8 301.7L737.8 309.0L742.6 317.6L747.9 328.2L752.9 339.5L760.1 358.7L767.4 381.7L776.9 415.9L797.7 496.8L801.0 506.7L804.8 514.0L809.2 519.7L816.1 525.9L826.0 533.2L836.8 540.0L847.7 545.8L859.9 551.5L873.3 557.0L888.5 562.5L942.9 580.1L976.1 592.1L987.6 596.0L1005.7 600.6L1026.3 604.4L1097.9 613.9L1243.1 636.9L1307.2 646.3L1377.0 655.9L1500.7 671.8L1792.3 707.4L1924.5 724.2" stroke="#ff8c1a" stroke-width="4"/>
<path d="M228.3 141.9L236.0 143.4L243.3 145.5L250.8 148.4L258.4 152.0L266.7 156.7L275.5 162.3L312.4 188.7L323.3 195.5L336.2 202.9L359.7 215.6L376.0 223.6L391.3 229.8L407.3 235.0L422.2 238.7L437.7 241.6L453.9 243.7L471.7 245.3L506.3 246.5L566.3 246.1L587.8 246.4L610.2 247.5L629.8 249.5L641.0 251.3L652.0 253.6L662.5 256.3L672.3 259.3L682.1 263.0L691.2 267.0L700.2 271.6L708.7 276.6L715.9 281.5L722.3 286.6L727.9 291.8L732.5 296.9L737.1 303.3L741.2 309.9L745.3 317.8L749.1 326.5L760.5 358.1L769.6 386.1L777.9 415.8L797.7 495.1L801.6 506.9L806.2 515.9L811.5 522.7L818.5 529.3L827.2 535.7L836.9 541.6L847.8 547.0L860.9 552.7L880.3 560.3L900.6 567.7L922.7 575.1L945.4 582.0L968.3 588.3L992.4 594.3L1017.6 600.0L1044.5 605.5L1104.1 616.0L1148.6 622.9L1210.0 631.7L1490.4 670.5L1799.1 715.7L1924.5 733.6" stroke="#ff1a8c" stroke-width="4"/>
<path d="M228.3 273.4L235.1 281.5L243.7 289.1L251.6 295.0L269.8 307.4L283.1 317.2L288.3 320.2L293.6 322.0L299.0 323.0L304.4 322.8L310.2 321.5L316.7 318.8L323.3 315.1L330.8 309.9L342.6 300.0L364.1 279.4L374.6 270.0L387.5 259.7L400.7 250.5L414.0 242.5L427.4 235.7L440.6 230.2L454.2 225.7L466.1 222.8L478.7 220.6L492.0 219.1L506.9 218.1L530.0 217.9L589.7 218.9L652.3 217.3L674.1 217.2L702.8 218.3L715.6 219.4L727.9 221.1L739.8 223.2L751.0 225.9L760.7 228.8L769.2 232.0L776.4 235.5L782.7 239.4L788.3 243.6L793.8 248.6L799.3 254.6L804.6 261.3L810.3 269.7L815.5 278.2" stroke="#1a1a1a" stroke-width="4" stroke-dasharray="20 17" stroke-dashoffset="27.4"/>
<path d="M815.5 278.2L820.8 288.3L825.6 298.6L830.1 310.1L834.1 321.8L837.7 334.1L841.0 347.6L846.8 378.6L856.2 445.7L866.9 533.1L877.0 625.2L892.4 773.1L896.8 810.4L901.6 842.6L907.2 871.6L912.1 891.9L913.6 894.9L915.3 895.7L917.7 894.5L920.4 891.4L922.8 887.5L925.0 882.5L929.2 867.5L932.7 848.7L939.7 789.8L954.2 642.5L962.3 570.7L967.5 531.2L973.1 494.6L978.3 465.6L983.9 439.7L989.3 418.4L995.1 400.4L1001.6 384.3L1009.0 369.9L1017.6 356.3L1026.7 345.0L1038.9 333.0L1048.4 326.2L1053.1 323.3L1064.9 317.1L1073.2 312.0L1078.1 310.1L1082.5 307.2L1094.9 300.2L1099.4 298.3L1103.9 295.5L1112.1 292.8L1116.7 290.2L1124.1 287.1L1133.4 284.2L1137.6 282.1L1146.1 280.1L1150.9 278.2L1154.7 277.3L1158.6 275.7L1166.7 274.4L1172.1 272.6L1176.4 272.2L1192.5 268.1L1197.9 268.0L1206.3 265.7L1210.7 265.4L1215.2 264.2L1218.6 264.0L1227.5 262.5L1232.0 262.6L1236.9 261.0L1248.8 259.4L1252.8 259.5L1257.8 258.3L1266.2 257.8L1271.2 256.3L1287.0 255.4L1292.0 254.1L1297.0 254.0L1304.9 252.6L1308.9 252.7L1312.9 252.1L1317.8 252.2L1326.3 250.4L1330.3 250.7L1334.7 250.1L1343.7 249.6L1347.2 249.0L1351.7 249.2L1360.1 247.6L1365.1 247.9L1368.6 247.4L1373.0 247.4L1381.5 246.3L1386.0 246.6L1391.0 245.4L1399.4 245.6L1403.4 245.2L1406.9 245.3L1411.9 244.3L1420.4 244.3L1424.8 243.5L1428.8 243.9L1440.8 243.3L1445.8 242.2L1450.8 242.8L1459.2 242.1L1463.2 242.4L1466.7 241.9L1471.7 241.9L1479.7 240.9L1485.2 241.7L1497.6 241.0L1501.1 240.5L1505.6 240.9L1513.1 240.2L1519.1 240.9L1523.1 240.2L1535.1 239.6L1539.6 240.2L1544.6 239.5L1553.1 240.0L1557.0 239.4L1561.0 239.5L1565.0 238.9L1574.0 239.7L1578.5 239.0L1583.0 239.3L1591.5 238.8L1595.5 239.0L1599.5 238.5L1605.0 239.4L1613.0 238.5L1617.0 238.9L1621.0 238.5L1625.5 238.8L1634.0 238.4L1638.5 239.2L1647.5 238.3L1655.4 238.3L1659.9 239.0L1667.9 238.4L1672.9 238.9L1677.4 238.2L1689.4 238.5L1693.4 239.1L1698.9 238.2L1706.9 238.6L1711.4 238.1L1714.9 238.6L1719.4 238.3L1727.4 238.9L1732.9 237.9L1736.9 238.4L1749.4 238.7L1753.9 238.2L1758.3 238.7L1766.8 237.8L1771.3 238.5L1774.8 238.3L1778.8 238.6L1787.8 238.0L1792.3 238.6L1796.3 238.0L1800.3 238.0L1805.3 238.5L1809.3 238.2L1813.3 238.6L1821.3 237.7L1826.8 238.4L1831.2 237.8L1834.7 238.1L1847.7 238.2L1852.7 237.2L1861.2 238.0L1865.2 237.6L1869.2 237.9L1873.2 237.4L1881.6 237.5L1886.6 236.8L1891.6 237.6L1903.6 237.2L1907.6 236.5L1912.5 237.0L1921.0 236.3L1924.5 237.0" stroke="#1a1a1a" stroke-width="4" stroke-dasharray="20 17" stroke-dashoffset="0.0"/>
<path d="M228.3 262.1L234.1 264.7L239.4 267.7L244.7 271.5L250.0 275.9L258.9 285.0L280.2 309.6L286.8 316.0L293.6 321.6L301.2 326.4L308.4 329.5L315.4 331.0L322.6 331.0L328.8 330.0L336.0 327.8L343.5 324.7L352.1 320.3L366.8 311.5L406.2 284.4L432.5 268.0L446.9 259.9L460.7 252.8L474.3 246.6L487.2 241.3L498.9 237.2L510.3 233.9L522.0 231.3L534.2 229.3L552.7 227.1L581.4 224.8L593.5 224.3L603.3 224.7L614.8 226.7L620.3 228.5L625.7 230.8L636.4 237.1L647.2 245.6L657.4 255.8L667.1 267.6L676.5 280.9L692.5 305.3L701.2 320.5L707.6 335.7L714.7 358.1L721.8 385.7L727.8 414.0L733.2 445.0L737.9 479.1L742.4 518.3L746.5 562.6L750.5 613.9L761.9 793.1L769.2 933.7L774.6 1060.9L776.7 1123.6L777.6 1136.1L778.2 1139.1L778.7 1140.1" stroke="#1f1fff" stroke-width="4" stroke-dasharray="20 17" stroke-dashoffset="21.9"/>
<path d="M778.7 1140.1L779.6 1138.5L780.6 1133.5L783.2 1113.7L785.0 1092.9L786.3 1069.0L788.7 964.1L792.4 738.1L794.7 646.2L796.7 588.3L799.2 533.9L802.3 482.5L805.8 434.2L808.3 409.4L811.3 388.7L815.3 370.2L820.3 352.9L826.2 337.8L832.3 326.3L835.8 321.4L839.3 317.2L848.0 309.2L855.4 304.0L864.1 299.0L896.4 283.4L924.5 271.6L937.8 266.9L950.3 262.9L972.1 257.4L996.1 253.1L1015.8 250.6L1024.7 250.1L1028.7 249.3L1035.7 248.7L1041.6 248.3L1045.6 249.0L1050.1 247.6L1053.6 248.1L1058.6 248.2L1063.1 246.3L1067.1 247.2L1071.1 246.2L1074.6 247.3L1079.6 248.2L1081.1 247.6L1084.1 245.3L1085.1 245.3L1087.6 246.9L1088.6 247.1L1091.5 246.0L1097.0 245.0L1101.5 246.4L1105.0 244.9L1106.0 245.2L1108.5 247.2L1110.0 247.5L1114.5 245.8L1118.5 243.6L1119.5 243.8L1122.0 245.5L1123.0 245.7L1126.5 244.1L1131.0 245.4L1136.0 245.3L1139.5 244.1L1140.5 244.4L1143.0 246.3L1144.0 246.5L1148.0 243.5L1152.5 243.0L1154.0 243.2L1157.5 244.8L1160.5 243.7L1161.5 243.7L1165.0 245.7L1166.0 245.5L1169.0 243.8L1173.5 243.3L1175.0 243.5L1177.5 244.8L1178.5 244.9L1181.4 242.3L1182.9 241.7L1186.4 243.3L1192.4 244.1L1195.4 243.7L1198.9 245.1L1200.4 244.5L1202.9 242.0L1203.9 241.5L1207.4 242.7L1212.4 243.5L1216.9 241.6L1220.4 243.8L1221.4 244.0L1224.9 242.8L1228.4 243.6L1233.4 243.4L1237.9 240.2L1238.9 240.4L1242.4 243.1L1251.4 242.3L1254.9 243.6L1255.9 243.5L1259.4 241.5L1262.3 242.9L1263.8 243.2L1271.8 240.2L1273.3 240.7L1275.8 243.2L1276.8 243.7L1280.8 242.2L1284.3 243.0L1289.8 242.1L1293.3 240.5L1294.3 240.7L1297.8 243.0L1298.8 242.8L1301.3 241.0L1302.8 240.7L1307.3 241.7L1311.3 243.6L1314.8 241.7L1315.8 241.6L1318.8 242.7L1322.3 240.7L1324.3 240.4L1328.3 240.8L1332.3 243.2L1333.3 242.9L1335.8 240.9L1336.7 240.7L1340.7 242.5L1346.2 242.3L1349.7 241.0L1353.2 242.1L1354.2 241.8L1356.7 239.7L1357.7 239.5L1361.7 241.9L1366.2 243.1L1367.7 242.8L1370.7 240.9L1371.7 240.9L1374.2 242.4L1375.2 242.6L1379.2 240.8L1388.2 241.6L1391.7 239.8L1393.2 240.5L1395.7 243.1L1397.2 243.5L1405.2 240.9L1409.6 241.7L1413.1 239.9L1417.6 242.3L1426.1 240.8L1427.1 241.1L1429.6 243.3L1430.6 243.7L1431.6 243.4L1435.1 241.0L1438.1 241.2L1441.1 240.7L1444.1 241.1L1447.6 240.5L1451.1 243.3L1452.1 243.6L1455.6 241.5L1456.6 241.2L1461.1 241.6L1465.1 242.8L1468.6 240.5L1469.6 240.3L1473.1 241.8L1476.1 240.8L1477.6 240.8L1482.0 242.0L1486.0 244.0L1487.0 243.6L1490.0 240.8L1491.0 240.5L1495.0 241.8L1500.0 241.7L1503.5 240.8L1507.5 242.7L1511.5 240.9L1515.5 243.1L1519.5 243.3L1521.0 242.9L1524.0 240.4L1525.0 240.0L1529.0 242.1L1533.0 241.2L1536.0 242.2L1541.5 243.1L1542.5 243.0L1546.0 241.0L1547.0 241.4L1549.5 243.4L1550.5 243.6L1553.9 241.9L1558.9 240.5L1560.4 240.8L1563.4 242.6L1567.4 241.6L1571.4 243.9L1579.9 241.0L1580.9 241.1L1583.9 243.3L1584.9 243.4L1587.9 241.3L1589.4 241.0L1597.9 243.1L1601.9 242.4L1605.4 244.4L1606.4 244.2L1609.4 241.5L1610.9 241.0L1615.4 241.6L1618.9 243.3L1619.9 243.1L1622.4 241.6L1623.4 241.5L1627.3 243.5L1631.3 242.6L1636.3 242.8L1639.8 243.8L1641.3 243.0L1643.8 240.5L1644.8 240.2L1648.8 242.6L1653.8 243.4L1657.8 242.6L1661.3 244.1L1662.3 243.8L1665.3 241.7L1666.3 241.7L1669.8 243.1L1673.8 242.9L1675.3 242.5L1677.8 240.9L1678.8 240.7L1683.3 244.0L1686.8 243.2L1689.8 243.7L1692.8 243.2L1695.8 243.3L1699.8 240.9L1700.8 241.1L1704.2 243.7L1708.2 242.5L1712.7 242.1L1714.2 242.6L1716.7 244.4L1717.7 244.6L1721.2 242.7L1725.2 243.8L1728.7 242.2L1733.7 241.2L1735.2 241.7L1737.7 244.1L1738.7 244.6L1739.7 244.4L1742.2 242.7L1743.2 242.5L1746.2 243.3L1751.7 243.7L1755.2 242.2L1756.2 242.1L1759.7 243.7L1760.7 243.3L1763.2 241.4L1764.2 241.1L1768.7 242.7L1772.2 244.7L1773.2 244.9L1777.2 242.4L1781.2 243.7L1784.6 242.3L1790.1 242.3L1794.1 243.7L1798.1 241.2L1799.6 241.8L1802.1 243.9L1803.6 244.3L1807.6 244.1L1811.6 242.0L1815.6 243.1L1819.6 241.1L1823.6 243.2L1827.6 243.6L1829.1 243.4L1832.1 241.8L1833.1 241.8L1836.1 244.1L1837.1 244.5L1841.1 242.6L1846.6 241.8L1850.1 242.3L1853.6 241.0L1855.1 241.8L1857.6 244.2L1858.6 244.5L1862.1 243.1L1867.1 241.8L1871.6 243.5L1875.5 241.2L1879.0 242.4L1882.5 241.8L1888.0 241.8L1891.5 244.4L1892.5 244.7L1893.5 244.4L1896.0 241.9L1897.5 241.3L1903.0 241.5L1906.0 242.1L1910.0 241.0L1913.0 242.9L1914.0 243.1L1918.0 241.2L1924.5 243.0" stroke="#1f1fff" stroke-width="4" stroke-dasharray="20 17" stroke-dashoffset="5.4"/>
<path d="M228.3 257.6L243.7 270.5L258.4 284.4L272.6 299.5L293.6 323.4L300.8 330.6L306.0 334.7L311.0 337.6L315.8 339.3L321.2 340.1L329.0 339.6L337.8 337.0L346.9 332.4L356.0 326.3L362.6 320.7L369.1 314.4L392.1 288.5L402.3 278.4L440.7 246.6L448.7 240.7L456.2 236.0L465.9 231.4L476.7 227.9L486.5 225.7L512.6 220.6L536.7 214.2L546.3 212.2L554.0 211.3L561.9 211.3L570.3 212.2L579.3 214.0L590.6 217.1L602.1 221.0L612.8 225.4L622.7 230.2L631.3 235.1L639.6 240.5L647.0 246.2L654.1 252.4L660.4 258.7L666.3 265.4L672.1 273.1L678.1 281.9L691.4 304.0L701.3 323.0L709.4 342.1L716.4 362.7L722.4 385.3L727.7 410.7L732.3 439.4L737.4 478.2L742.3 521.0L746.7 565.7L750.6 613.4L754.3 665.5L759.1 745.1L770.0 947.8L772.5 1003.1L775.2 1082.7L776.8 1102.3L777.8 1107.1L778.4 1108.3L778.9 1108.6" stroke="#ff8c1a" stroke-width="4" stroke-dasharray="20 17" stroke-dashoffset="32.7"/>
<path d="M778.9 1108.6L780.3 1107.0L781.7 1103.2L783.9 1091.9L785.9 1068.9L787.3 1041.6L788.4 1002.7L791.5 781.9L794.8 644.5L797.0 583.2L799.5 528.8L802.4 478.5L805.9 432.6L808.5 407.8L811.8 386.6L816.0 367.6L821.2 350.4L827.0 335.9L833.1 324.9L836.3 320.5L840.2 316.0L849.2 308.0L855.0 304.1L862.0 300.1L906.4 278.7L928.3 270.0L951.3 262.8L967.8 258.7L984.9 255.3L1005.5 252.0L1023.4 250.1L1027.3 249.1L1031.3 249.1L1034.8 248.5L1038.3 249.1L1044.2 248.6L1048.2 246.8L1052.7 248.1L1055.7 247.1L1059.2 247.1L1062.2 245.9L1065.7 247.2L1068.7 246.1L1069.7 246.1L1072.7 248.3L1073.7 248.4L1076.6 246.4L1079.6 245.7L1082.6 243.8L1083.6 244.0L1086.1 246.6L1087.1 247.1L1090.6 244.9L1094.1 246.3L1097.1 244.9L1098.1 244.9L1100.6 246.0L1103.6 244.8L1104.6 245.0L1107.6 247.6L1108.6 247.2L1111.6 243.5L1112.6 243.2L1115.1 243.8L1118.1 243.5L1121.6 246.4L1122.6 246.2L1124.6 244.7L1125.6 244.5L1128.1 246.2L1129.1 246.4L1132.1 243.9L1133.1 243.5L1136.1 244.7L1139.1 244.3L1141.5 245.9L1142.5 246.1L1143.5 245.5L1146.0 242.3L1147.0 242.0L1150.0 244.3L1153.5 244.3L1156.0 246.0L1157.0 246.2L1160.0 244.7L1163.0 245.8L1164.0 245.6L1167.5 242.0L1168.5 242.3L1171.5 244.8L1174.5 244.5L1177.5 245.3L1180.5 242.8L1181.5 242.6L1185.0 245.6L1186.0 245.6L1188.5 244.4L1192.0 246.2L1195.5 244.4L1198.5 244.5L1202.0 241.6L1203.0 242.0L1205.5 245.4L1206.5 246.1L1209.5 245.0L1213.0 245.4L1215.9 243.8L1216.9 244.0L1218.9 245.6L1219.9 245.9L1223.4 243.9L1226.4 246.1L1227.4 246.3L1230.9 243.7L1233.9 243.7L1236.4 242.9L1237.4 243.3L1239.9 246.7L1240.9 247.4L1241.9 247.3L1243.9 245.5L1244.9 245.1L1247.9 246.0L1251.4 244.2L1254.9 245.2L1257.9 244.0L1258.9 244.4L1260.9 246.5L1261.9 246.9L1262.9 246.4L1265.4 243.7L1266.4 243.5L1268.9 244.9L1271.9 245.2L1274.9 247.7L1275.9 247.9L1279.4 245.0L1280.4 245.0L1282.9 246.2L1283.9 245.7L1285.9 243.8L1286.9 243.5L1289.9 245.2L1293.3 245.5L1296.3 247.6L1297.3 247.3L1300.3 244.1L1301.3 244.2L1304.3 246.7L1307.3 246.2L1310.3 247.2L1311.3 247.0L1314.3 244.8L1317.8 246.0L1321.3 243.4L1322.3 243.8L1325.3 247.1L1328.3 247.1L1330.8 247.7L1331.8 247.5L1334.3 244.9L1335.3 244.4L1336.3 244.8L1338.3 246.8L1339.3 247.2L1342.3 245.4L1343.3 245.5L1345.3 246.6L1346.3 246.7L1349.3 245.2L1352.8 246.1L1355.8 244.3L1357.3 245.3L1359.8 248.7L1360.8 248.9L1363.8 246.9L1366.8 246.6L1369.2 244.8L1370.2 244.5L1373.7 246.7L1374.7 246.5L1376.7 245.1L1377.7 245.1L1380.2 247.3L1381.2 247.7L1384.7 245.7L1387.7 246.3L1390.7 245.6L1391.7 246.1L1393.7 248.5L1394.7 249.1L1395.7 248.8L1398.7 245.5L1402.2 246.0L1405.2 244.7L1408.7 246.6L1412.2 245.9L1415.7 248.8L1416.7 248.5L1419.2 245.6L1420.2 245.2L1423.2 246.5L1426.2 246.3L1428.7 248.0L1429.7 248.1L1432.7 245.1L1433.7 244.6L1437.2 246.5L1440.7 245.0L1444.1 247.5L1447.1 247.3L1450.1 248.7L1451.1 248.3L1453.6 244.9L1454.6 244.3L1455.6 244.6L1458.1 246.7L1461.6 246.1L1464.6 247.2L1468.1 245.2L1469.1 245.4L1471.6 247.2L1472.6 247.0L1474.6 245.5L1475.6 245.3L1478.6 248.1L1479.6 248.5L1482.6 247.4L1485.6 247.0L1489.1 243.7L1490.1 244.0L1492.6 246.8L1493.6 247.1L1496.6 245.9L1500.1 247.5L1503.6 246.2L1506.6 247.1L1510.1 245.2L1511.1 245.6L1513.1 248.0L1514.1 248.6L1515.0 248.3L1518.0 245.7L1521.0 245.4L1523.5 244.2L1525.0 244.8L1527.5 247.5L1528.5 247.6L1531.5 246.2L1535.0 248.4L1536.0 248.0L1538.5 245.8L1542.0 246.0L1544.5 245.0L1545.5 245.3L1548.0 247.9L1549.0 248.1L1550.0 247.5L1552.0 245.1L1553.0 244.6L1556.0 245.9L1559.5 245.6L1562.5 247.8L1563.5 247.7L1565.5 246.6L1566.5 246.5L1569.5 248.2L1570.5 247.8L1573.0 244.6L1574.0 244.0L1577.5 245.5L1580.0 245.6L1583.5 247.8L1584.5 247.4L1586.5 245.3L1587.4 244.8L1588.4 245.1L1590.9 247.0L1591.9 246.9L1594.4 245.7L1597.4 247.3L1598.4 247.4L1601.4 246.3L1604.4 247.0L1605.4 246.3L1607.4 243.7L1608.4 243.0L1609.4 243.4L1612.4 246.6L1615.4 246.5L1618.4 247.7L1622.4 245.3L1625.9 247.1L1629.4 244.7L1630.4 245.0L1632.9 247.1L1633.9 247.2L1636.4 245.8L1639.4 245.8L1642.9 243.5L1643.9 244.0L1646.4 247.4L1647.4 248.0L1650.9 246.5L1653.9 247.3L1657.4 245.2L1660.8 245.9L1663.8 244.0L1664.8 244.3L1667.8 247.6L1668.8 247.5L1671.8 245.2L1674.8 245.5L1677.3 244.8L1678.8 245.4L1680.8 247.7L1681.8 248.2L1682.8 247.9L1685.3 245.7L1686.3 245.7L1688.3 246.8L1689.3 246.8L1691.8 244.6L1693.3 244.1L1695.8 245.0L1698.8 244.7L1701.8 247.8L1702.8 248.3L1703.8 247.9L1705.8 245.5L1706.8 244.9L1710.3 246.2L1713.3 245.6L1716.8 247.2L1720.3 245.0L1723.3 246.5L1724.3 246.4L1726.8 243.8L1727.8 243.4L1728.8 243.8L1731.3 246.0L1734.2 246.6L1737.2 248.4L1738.2 248.0L1740.7 244.9L1741.7 244.5L1745.2 246.4L1748.7 244.8L1751.7 246.3L1755.2 245.3L1758.2 246.5L1759.2 246.3L1762.2 243.7L1763.2 244.1L1765.7 247.3L1766.7 247.8L1769.7 247.1L1772.7 247.1L1776.2 244.1L1777.2 244.3L1779.7 246.0L1780.7 245.8L1782.7 244.4L1783.7 244.3L1786.7 247.0L1787.7 247.3L1790.7 246.1L1793.7 246.4L1796.2 244.6L1797.2 244.4L1798.2 245.1L1800.2 247.7L1801.2 248.3L1802.2 247.9L1804.7 245.8L1808.2 245.9L1811.1 244.2L1814.6 245.9L1818.1 245.0L1819.1 245.7L1821.1 248.2L1822.1 248.7L1823.1 248.3L1825.6 246.0L1829.1 245.8L1831.6 244.9L1832.6 245.3L1835.6 247.8L1836.6 247.5L1839.6 244.9L1843.1 246.4L1846.6 244.8L1850.1 246.6L1853.1 246.5L1855.6 248.7L1856.6 249.2L1857.6 248.6L1860.1 245.2L1861.1 244.6L1864.1 245.8L1867.6 245.5L1870.6 247.3L1871.6 247.1L1873.6 245.6L1874.6 245.5L1877.1 247.4L1878.1 247.6L1881.6 245.2L1882.6 245.5L1885.1 247.6L1888.0 247.5L1891.0 248.4L1892.0 247.9L1894.5 244.6L1895.5 244.0L1896.5 244.4L1899.0 246.6L1902.5 246.0L1906.0 248.1L1909.0 247.0L1912.5 248.2L1913.5 247.7L1915.5 245.5L1916.5 245.2L1917.5 245.8L1919.5 248.1L1920.5 248.6L1924.5 247.2" stroke="#ff8c1a" stroke-width="4" stroke-dasharray="20 17" stroke-dashoffset="36.4"/>
<path d="M228.3 257.6L243.7 270.5L258.4 284.4L272.6 299.5L294.0 323.8L300.8 330.7L306.0 334.8L311.0 337.7L315.8 339.4L320.7 340.1L328.5 339.7L337.4 337.1L346.5 332.7L355.9 326.2L362.6 320.7L369.5 314.0L393.2 287.5L404.5 276.3L415.2 267.1L435.7 250.7L445.3 243.6L453.9 238.0L460.3 234.4L467.0 231.4L481.5 226.4L498.7 222.4L526.2 217.7L540.7 215.7L552.6 214.6L563.5 214.2L573.8 214.5L583.5 215.7L592.6 217.5L602.1 220.3L611.4 224.0L621.4 228.8L631.0 234.5L640.7 241.3L649.7 248.7L657.8 256.4L665.5 264.8L672.7 274.1L679.9 284.7L692.2 305.2L702.0 324.5L710.2 344.3L717.3 366.0L723.3 389.1L728.5 415.0L733.1 444.2L738.2 484.4L742.9 526.1L747.1 570.4L750.9 617.7L754.6 670.0L769.4 931.5L771.2 972.9L773.4 1038.0L776.1 1095.6L777.1 1107.1L777.8 1109.8L778.7 1110.8" stroke="#ff1a8c" stroke-width="4" stroke-dasharray="20 17" stroke-dashoffset="34.2"/>
<path d="M778.7 1110.8L780.0 1109.6L781.6 1105.7L783.1 1100.1L784.0 1094.5L785.6 1075.1L787.1 1047.4L788.3 1002.0L791.8 768.5L794.9 642.6L797.0 582.3L799.5 528.4L802.5 478.1L805.9 432.2L808.6 407.4L811.8 386.7L816.0 367.7L821.2 350.5L827.0 335.9L833.0 325.0L836.2 320.6L840.1 316.1L849.1 308.2L856.2 303.4L864.1 299.0L905.0 279.7L930.1 269.5L953.6 261.8L976.0 256.5L1000.5 252.4L1026.8 249.4L1030.7 249.4L1034.7 248.6L1039.2 248.9L1047.6 247.8L1052.1 249.0L1056.6 247.6L1062.1 246.8L1065.6 247.3L1068.6 246.4L1070.1 246.8L1072.6 248.3L1073.6 248.4L1077.1 246.9L1082.1 246.5L1086.6 248.0L1090.6 245.2L1094.1 246.2L1097.6 245.5L1100.5 246.1L1103.5 246.2L1106.5 248.0L1107.5 248.2L1112.0 244.8L1115.5 245.6L1118.0 245.5L1121.0 246.0L1125.0 244.4L1129.0 246.2L1132.0 244.8L1133.0 244.7L1136.5 246.2L1141.5 246.6L1142.5 246.3L1145.5 243.5L1146.5 243.1L1150.5 245.1L1154.0 244.4L1157.0 245.1L1160.0 244.8L1163.0 245.9L1164.0 245.7L1166.5 244.0L1167.5 243.8L1171.4 246.0L1176.9 244.2L1180.4 242.6L1181.9 243.1L1184.4 244.9L1185.4 245.0L1188.4 244.0L1192.4 245.6L1197.9 244.6L1201.9 242.9L1205.9 245.3L1206.9 245.1L1209.4 243.3L1210.9 243.0L1215.9 243.4L1219.4 245.0L1223.4 244.0L1226.9 245.7L1227.9 245.4L1231.4 243.0L1235.9 242.7L1237.4 243.1L1240.4 244.9L1241.4 244.7L1243.9 242.9L1244.9 242.8L1248.3 244.4L1251.3 244.0L1254.8 244.4L1257.8 243.8L1261.3 245.0L1265.8 241.6L1266.8 241.8L1269.3 243.2L1274.8 244.7L1275.8 244.7L1278.8 243.3L1282.8 244.9L1286.8 243.0L1290.3 243.9L1295.8 244.0L1299.3 241.8L1300.3 241.6L1303.8 244.4L1304.8 244.8L1307.8 244.3L1310.8 244.6L1313.8 243.8L1317.3 244.3L1321.3 242.0L1325.7 244.5L1334.7 242.8L1338.7 245.5L1339.7 245.4L1342.7 243.8L1346.2 244.5L1349.2 243.4L1352.2 243.1L1355.2 242.2L1356.7 242.7L1359.2 245.1L1360.2 245.5L1364.2 243.6L1369.7 244.0L1373.2 245.1L1377.2 243.2L1381.2 244.6L1384.2 242.9L1385.7 242.6L1390.7 243.9L1394.2 246.2L1395.2 246.1L1398.7 243.6L1402.2 244.7L1405.6 243.9L1408.6 244.1L1411.6 243.5L1415.6 245.1L1419.6 242.9L1423.6 245.2L1428.6 246.1L1429.6 245.8L1433.1 243.6L1437.1 244.8L1440.1 243.3L1441.1 243.3L1444.1 244.7L1449.6 245.7L1450.6 245.5L1454.1 243.6L1455.1 244.0L1457.6 246.2L1458.6 246.5L1461.6 245.3L1464.6 244.9L1467.6 243.9L1471.6 244.9L1475.1 243.7L1479.6 246.7L1485.1 245.5L1488.5 244.3L1489.5 244.6L1492.0 246.3L1493.0 246.5L1496.0 244.6L1497.0 244.3L1500.0 245.2L1503.0 244.8L1506.5 245.4L1509.5 245.0L1510.5 245.4L1513.0 247.6L1514.0 247.9L1518.5 245.0L1523.5 244.9L1527.5 246.1L1531.0 244.7L1535.0 246.7L1538.5 245.5L1539.5 245.4L1544.5 246.4L1548.0 247.8L1549.5 247.2L1552.0 244.7L1553.0 244.4L1556.5 245.8L1559.5 245.6L1563.0 246.4L1566.0 246.3L1569.5 247.9L1573.4 245.4L1574.4 245.5L1577.4 247.1L1582.4 247.0L1586.9 244.7L1587.9 244.9L1590.9 247.0L1594.4 246.2L1598.4 247.8L1603.9 247.8L1607.4 245.3L1608.4 245.1L1612.4 247.7L1615.9 246.5L1621.4 246.1L1625.4 248.0L1629.4 246.8L1633.4 248.8L1636.9 247.1L1642.4 245.4L1643.4 245.7L1645.9 247.9L1646.9 248.3L1650.9 246.7L1654.4 248.0L1657.3 247.6L1660.3 248.0L1663.8 247.0L1667.8 248.9L1668.8 248.5L1671.3 246.3L1672.3 245.9L1677.3 246.9L1681.3 248.9L1685.3 247.5L1688.8 249.0L1693.3 247.1L1698.8 247.5L1702.3 248.7L1705.8 246.2L1706.8 246.0L1710.8 248.4L1716.3 249.1L1720.3 248.1L1723.3 248.9L1724.3 248.5L1726.8 246.4L1727.8 246.1L1731.8 248.2L1736.2 248.6L1737.7 248.4L1740.2 247.1L1741.2 247.0L1744.2 249.2L1745.2 249.5L1748.7 248.2L1752.2 248.7L1755.2 248.0L1758.2 247.9L1761.7 246.0L1762.7 246.3L1765.2 248.8L1766.7 249.6L1769.7 248.7L1772.7 248.6L1775.7 247.9L1779.7 249.2L1783.2 247.3L1784.2 247.4L1786.7 248.7L1787.7 248.8L1790.7 247.5L1795.7 247.0L1797.2 247.5L1800.7 250.3L1801.7 250.2L1804.7 248.2L1808.2 248.6L1811.2 247.8L1814.6 247.9L1817.6 247.0L1821.6 249.3L1822.6 249.1L1825.1 247.3L1826.1 247.0L1835.1 249.9L1836.1 249.6L1839.1 247.3L1840.1 247.3L1843.1 248.2L1847.1 246.7L1852.6 247.9L1856.1 249.5L1857.1 249.3L1859.6 247.2L1860.6 246.9L1863.6 248.5L1865.1 248.9L1870.1 248.3L1874.1 246.7L1877.1 247.8L1878.1 247.8L1880.6 246.3L1881.6 246.2L1885.1 248.6L1887.1 249.0L1891.0 248.7L1895.0 246.3L1899.0 248.3L1903.0 246.6L1906.0 247.2L1909.0 246.9L1912.0 247.5L1915.5 246.2L1916.5 246.4L1919.0 248.7L1920.5 249.3L1924.5 247.2" stroke="#ff1a8c" stroke-width="4" stroke-dasharray="20 17" stroke-dashoffset="34.1"/>
</g>
<rect x="226.3" y="27" width="1700" height="4" fill="#1e1e1e"/>
<rect x="226.3" y="27" width="4" height="1320" fill="#1e1e1e"/>
<rect x="1922" y="29" width="8" height="1321" fill="#767676"/>
<rect x="226.3" y="1343.2" width="1700" height="3.4" fill="#3a3a3a"/>
<rect x="226.3" y="1346.6" width="1703.7" height="3.4" fill="#8a8a8a"/>
<rect x="277.1" y="1335.5" width="3.6" height="8" fill="#444"/>
<rect x="403.7" y="1327" width="3.6" height="17" fill="#1e1e1e"/>
<rect x="530.3" y="1335.5" width="3.6" height="8" fill="#444"/>
<rect x="656.9" y="1327" width="3.6" height="17" fill="#1e1e1e"/>
<rect x="783.5" y="1335.5" width="3.6" height="8" fill="#444"/>
<rect x="910.0" y="1327" width="3.6" height="17" fill="#1e1e1e"/>
<rect x="1036.6" y="1335.5" width="3.6" height="8" fill="#444"/>
<rect x="1163.2" y="1327" width="3.6" height="17" fill="#1e1e1e"/>
<rect x="1289.8" y="1335.5" width="3.6" height="8" fill="#444"/>
<rect x="1416.4" y="1327" width="3.6" height="17" fill="#1e1e1e"/>
<rect x="1543.0" y="1335.5" width="3.6" height="8" fill="#444"/>
<rect x="1669.5" y="1327" width="3.6" height="17" fill="#1e1e1e"/>
<rect x="1796.1" y="1335.5" width="3.6" height="8" fill="#444"/>
<rect x="1922.7" y="1327" width="3.6" height="17" fill="#1e1e1e"/>
<rect x="230" y="1233.5" width="20" height="3.6" fill="#1e1e1e"/>
<rect x="230" y="1123.8" width="10" height="3.6" fill="#333"/>
<rect x="230" y="1014.2" width="20" height="3.6" fill="#1e1e1e"/>
<rect x="230" y="904.5" width="10" height="3.6" fill="#333"/>
<rect x="230" y="794.8" width="20" height="3.6" fill="#1e1e1e"/>
<rect x="230" y="685.1" width="10" height="3.6" fill="#333"/>
<rect x="230" y="575.5" width="20" height="3.6" fill="#1e1e1e"/>
<rect x="230" y="465.8" width="10" height="3.6" fill="#333"/>
<rect x="230" y="356.1" width="20" height="3.6" fill="#1e1e1e"/>
<rect x="230" y="246.5" width="10" height="3.6" fill="#333"/>
<rect x="230" y="136.8" width="20" height="3.6" fill="#1e1e1e"/>
<rect x="1905" y="215.2" width="17" height="3.6" fill="#1e1e1e"/>
<rect x="1913" y="403.2" width="9" height="3.6" fill="#333"/>
<rect x="1905" y="591.2" width="17" height="3.6" fill="#1e1e1e"/>
<rect x="1913" y="779.2" width="9" height="3.6" fill="#333"/>
<rect x="1905" y="967.2" width="17" height="3.6" fill="#1e1e1e"/>
<rect x="1913" y="1155.2" width="9" height="3.6" fill="#333"/>
<g class="tl">
<text x="405.5" y="1405" text-anchor="middle">100</text>
<text x="658.7" y="1405" text-anchor="middle">200</text>
<text x="911.8" y="1405" text-anchor="middle">300</text>
<text x="1165.0" y="1405" text-anchor="middle">400</text>
<text x="1418.2" y="1405" text-anchor="middle">500</text>
<text x="1671.3" y="1405" text-anchor="middle">600</text>
<text x="1924.5" y="1405" text-anchor="middle">700</text>
<text x="206" y="1248.8" text-anchor="end">0</text>
<text x="206" y="1029.5" text-anchor="end">20</text>
<text x="206" y="810.1" text-anchor="end">40</text>
<text x="206" y="590.8" text-anchor="end">60</text>
<text x="206" y="371.4" text-anchor="end">80</text>
<text x="206" y="152.1" text-anchor="end">100</text>
<text x="1948.5" y="230.5">0</text>
<text x="1946" y="606.5">-5</text>
<text x="1946" y="982.5">-10</text>
<text x="1946" y="1358.5">-15</text>
</g>
<text class="at" x="1076" y="1498" text-anchor="middle">Temperature (ºC)</text>
<text class="at" transform="translate(76.5,725) rotate(-90)" text-anchor="middle">Weight (%)</text>
<text class="at" transform="translate(2083.5,715) rotate(-90)" text-anchor="middle">DTG (%/min)</text>
<text class="pl" x="262" y="1309">b</text>
<rect x="1233.5" y="1011" width="657" height="296" fill="#fff" stroke="#7a7a7a" stroke-width="3.6"/>
<text class="lg" x="1257" y="1064.4">Weight</text>
<text class="lg" x="1570" y="1064.4">DTG</text>
<line x1="1256" y1="1098.8" x2="1349" y2="1098.8" stroke="#1a1a1a" stroke-width="4.5"/>
<line x1="1567" y1="1098.8" x2="1662" y2="1098.8" stroke="#1a1a1a" stroke-width="4.5" stroke-dasharray="20 17"/>
<text class="lg" x="1361" y="1113">CS</text>
<text class="lg" x="1672" y="1113">CS</text>
<line x1="1256" y1="1149.5" x2="1349" y2="1149.5" stroke="#1f1fff" stroke-width="4.5"/>
<line x1="1567" y1="1149.5" x2="1662" y2="1149.5" stroke="#1f1fff" stroke-width="4.5" stroke-dasharray="20 17"/>
<text class="lg" x="1361" y="1164.2">CS5</text>
<text class="lg" x="1672" y="1164.2">CS5</text>
<line x1="1256" y1="1198" x2="1349" y2="1198" stroke="#ff8c1a" stroke-width="4.5"/>
<line x1="1567" y1="1198" x2="1662" y2="1198" stroke="#ff8c1a" stroke-width="4.5" stroke-dasharray="20 17"/>
<text class="lg" x="1361" y="1212.4">CS5VA<tspan class="sub" dy="13">in-situ</tspan></text>
<text class="lg" x="1672" y="1212.4">CS5VA<tspan class="sub" dy="13">in-situ</tspan></text>
<line x1="1256" y1="1260.3" x2="1349" y2="1260.3" stroke="#ff1a8c" stroke-width="4.5"/>
<line x1="1567" y1="1260.3" x2="1662" y2="1260.3" stroke="#ff1a8c" stroke-width="4.5" stroke-dasharray="20 17"/>
<text class="lg" x="1361" y="1274">CS5VA<tspan class="sub" dy="13">post</tspan></text>
<text class="lg" x="1672" y="1274">CS5VA<tspan class="sub" dy="13">post</tspan></text>
</g>
<g transform="translate(0,3122)">
<rect x="0" y="0" width="2118" height="1516" fill="#fdfdfd"/>
<rect x="222.3" y="23" width="1700" height="4" fill="#ececec"/>
<rect x="230.3" y="31" width="1692" height="4" fill="#ececec"/>
<rect x="222.3" y="27" width="4" height="1322" fill="#ececec"/>
<rect x="230.3" y="31" width="4" height="1312" fill="#ececec"/>
<rect x="222.3" y="1350" width="1708" height="3" fill="#f0f0f0"/>
<g clip-path="url(#clip)" fill="none" stroke-linejoin="round">
<path d="M228.3 141.3L247.0 148.4L266.6 157.9L285.8 168.5L328.4 194.1L349.2 204.9L361.0 209.9L373.1 214.1L386.0 217.6L400.0 220.6L414.8 222.9L430.7 224.7L448.3 226.0L468.4 226.9L529.9 228.3L685.6 230.4L735.8 231.7L761.8 233.0L784.4 235.6L794.2 237.4L803.3 239.5L811.6 242.1L819.7 245.3L827.1 248.9L833.8 252.8L841.3 258.1L848.4 264.2L854.9 271.0L861.1 278.7L867.0 287.5L872.6 297.2L877.7 307.6L882.6 319.3L890.0 340.3L897.1 364.3L923.2 470.5L932.7 505.8L941.3 535.0L948.7 557.3L956.2 576.4L964.3 593.6L972.9 608.8L982.9 623.0L993.9 635.2L1008.1 647.8L1026.2 661.3L1048.3 675.8L1071.5 689.2L1096.3 701.9L1122.1 713.4L1148.9 724.0L1177.1 733.8L1207.2 743.0L1240.1 751.9L1278.1 761.1L1322.2 770.8L1368.3 780.0L1416.0 788.7L1460.3 796.1L1506.5 803.2L1555.4 810.2L1607.7 817.1L1709.6 829.3L1924.5 853.2" stroke="#1a1a1a" stroke-width="4"/>
<path d="M228.3 141.9L237.8 144.6L247.2 148.2L256.6 152.7L266.5 158.4L283.7 170.3L323.8 201.6L335.8 209.6L348.7 217.2L364.2 225.2L380.6 232.5L397.0 238.8L413.1 244.0L427.1 247.5L441.2 250.1L456.5 252.1L473.9 253.4L493.9 254.2L566.5 255.8L621.6 255.4L632.9 255.9L642.8 256.8L659.0 259.5L675.1 264.1L690.6 270.5L704.9 278.3L714.1 284.5L722.4 291.0L730.4 298.4L737.7 306.4L744.6 315.3L750.9 324.7L756.4 334.6L761.6 345.3L765.7 355.5L769.4 366.3L776.6 392.0L788.6 445.6L795.3 482.9L797.5 492.7L799.5 498.8L801.8 504.2L804.8 509.7L808.4 514.8L815.5 522.9L824.4 530.6L834.8 537.6L846.7 544.2L857.2 549.0L869.9 554.0L930.8 575.4L946.8 580.7L960.7 584.5L977.2 588.4L1002.6 593.7L1071.7 606.7L1146.5 619.0L1199.8 626.9L1258.6 635.0L1509.1 666.8L1652.9 686.3L1725.5 696.7L1794.5 707.2L1860.5 717.8L1924.5 728.6" stroke="#1f1fff" stroke-width="4"/>
<path d="M228.3 145.2L237.1 146.7L245.6 149.3L253.4 152.8L261.4 157.6L268.8 163.2L276.5 170.1L300.4 195.4L310.4 205.1L323.6 216.5L339.3 228.9L357.7 241.9L374.8 252.4L390.8 260.5L406.5 266.6L419.8 270.4L434.9 273.5L451.7 275.8L471.2 277.5L499.8 279.0L531.3 280.1L627.3 281.4L638.7 281.9L649.1 282.9L664.3 285.6L678.0 289.6L691.7 295.4L705.0 303.0L713.1 308.8L721.1 315.5L728.4 322.7L735.5 330.8L742.0 339.4L748.1 348.9L754.0 359.3L759.2 370.1L763.7 380.7L767.9 392.0L775.5 416.6L781.2 440.5L790.8 487.0L794.4 500.9L797.0 508.6L799.7 515.0L802.7 520.7L806.3 526.4L812.7 534.4L820.6 542.3L829.8 549.8L840.6 557.0L853.4 564.3L867.9 571.3L883.5 578.1L901.7 585.0L979.4 612.0L1003.7 619.3L1021.1 623.6L1041.1 627.8L1105.5 639.3L1277.8 668.3L1429.1 692.0L1548.0 709.1L1795.3 742.1L1863.5 752.2L1924.5 762.1" stroke="#ff8c1a" stroke-width="4"/>
<path d="M228.3 141.9L239.1 145.3L249.3 149.5L260.0 154.9L270.6 161.3L289.2 174.6L331.6 208.5L342.9 216.5L353.5 223.1L366.7 230.1L384.1 238.0L398.4 243.8L411.2 248.0L427.1 252.0L444.3 255.2L463.6 257.6L486.0 259.4L509.8 260.6L535.6 261.2L616.1 261.0L630.2 261.6L643.1 262.7L659.6 265.4L674.2 269.3L687.4 274.5L700.0 281.4L708.3 287.0L716.5 293.7L723.9 300.6L731.2 308.5L737.5 316.4L743.5 325.2L748.9 334.2L753.7 344.0L758.9 356.4L763.8 370.5L778.6 420.2L783.5 439.5L791.0 477.0L795.0 492.0L798.0 500.5L801.4 508.2L805.2 515.1L809.7 521.6L817.0 529.6L825.6 537.2L836.0 544.3L847.9 550.9L857.4 555.3L868.6 559.9L938.0 585.6L953.6 590.7L970.4 595.2L1039.7 610.0L1124.0 626.0L1214.5 641.4L1287.9 652.8L1369.4 664.6L1639.4 701.0L1739.3 715.0L1836.9 729.8L1924.5 744.5" stroke="#ff1a8c" stroke-width="4"/>
<path d="M228.3 273.4L235.1 281.5L243.7 289.1L251.6 295.0L269.8 307.4L283.1 317.2L288.3 320.2L293.6 322.0L299.0 323.0L304.4 322.8L310.2 321.5L316.7 318.8L323.3 315.1L330.8 309.9L342.6 300.0L364.1 279.4L374.6 270.0L387.5 259.7L400.7 250.5L414.0 242.5L427.4 235.7L440.6 230.2L454.2 225.7L466.1 222.8L478.7 220.6L492.0 219.1L506.9 218.1L530.0 217.9L589.7 218.9L652.3 217.3L674.1 217.2L702.8 218.3L715.6 219.4L727.9 221.1L739.8 223.2L751.0 225.9L760.7 228.8L769.2 232.0L776.4 235.5L782.7 239.4L788.3 243.6L793.8 248.6L799.3 254.6L804.6 261.3L810.3 269.7L815.5 278.2" stroke="#1a1a1a" stroke-width="4" stroke-dasharray="20 17" stroke-dashoffset="27.4"/>
<path d="M815.5 278.2L820.8 288.3L825.6 298.6L830.1 310.1L834.1 321.8L837.7 334.1L841.0 347.6L846.8 378.6L856.2 445.7L866.9 533.1L877.0 625.2L892.4 773.1L896.8 810.4L901.6 842.6L907.2 871.6L912.1 891.9L913.6 894.9L915.3 895.7L917.7 894.5L920.4 891.4L922.8 887.5L925.0 882.5L929.2 867.5L932.7 848.7L939.7 790.3L954.2 642.5L962.3 570.2L967.6 530.7L973.2 494.1L978.4 465.1L984.0 439.2L989.5 418.0L995.3 400.0L1001.9 383.8L1009.2 369.5L1017.9 355.9L1028.1 343.4L1037.7 334.2L1043.1 329.8L1049.3 325.5L1067.5 315.7L1083.8 306.3L1088.7 304.3L1093.5 301.0L1105.7 294.9L1109.8 293.5L1114.4 291.1L1123.1 288.1L1127.8 285.6L1134.8 283.2L1144.3 280.8L1148.5 278.8L1152.8 278.0L1161.9 274.9L1169.6 273.3L1174.0 272.8L1183.2 269.9L1187.1 269.6L1191.1 268.6L1203.8 266.3L1208.3 266.1L1217.1 263.7L1221.6 263.6L1238.4 261.0L1242.4 260.8L1247.3 259.4L1263.7 258.1L1267.7 257.0L1277.1 256.2L1281.1 255.2L1285.6 255.2L1297.5 254.0L1302.4 252.8L1306.9 252.9L1315.9 251.8L1319.8 251.9L1323.3 251.2L1327.8 251.0L1336.7 249.4L1341.7 249.9L1358.1 248.0L1362.1 248.1L1367.1 247.2L1371.6 247.0L1376.0 247.4L1379.5 246.7L1392.0 245.5L1396.4 245.8L1400.9 245.0L1410.4 245.1L1421.9 243.6L1430.8 244.0L1435.3 243.2L1439.8 243.4L1455.8 242.0L1461.2 242.6L1469.7 241.7L1473.7 241.8L1477.7 241.3L1481.2 241.5L1490.2 240.9L1495.2 241.5L1505.1 240.4L1512.1 240.2L1516.1 240.7L1525.1 240.1L1529.1 240.5L1533.6 239.7L1540.6 239.5L1550.6 240.2L1555.1 239.4L1564.0 239.5L1568.0 239.0L1584.5 239.5L1589.5 238.6L1606.5 239.1L1610.5 238.7L1614.5 239.2L1624.0 238.2L1628.0 238.8L1635.5 239.0L1644.5 238.4L1648.9 238.9L1652.9 238.3L1657.9 238.2L1669.9 239.0L1678.4 238.2L1683.4 238.7L1687.9 238.2L1703.9 238.8L1709.4 237.9L1717.9 238.7L1721.9 238.3L1725.9 238.7L1738.9 238.4L1743.4 237.8L1748.4 238.6L1760.3 238.5L1764.3 238.0L1768.8 238.5L1777.3 238.0L1782.3 238.8L1798.3 237.8L1802.8 238.5L1807.3 238.1L1816.3 238.5L1828.7 237.6L1837.7 238.5L1841.7 237.9L1858.7 237.8L1862.7 237.3L1871.7 238.1L1876.1 237.3L1880.1 237.5L1883.6 237.1L1892.6 237.4L1897.1 236.9L1901.6 237.5L1911.0 236.5L1918.0 236.3L1922.0 236.9L1924.5 236.8" stroke="#1a1a1a" stroke-width="4" stroke-dasharray="20 17" stroke-dashoffset="0.0"/>
<path d="M228.3 269.6L236.6 277.7L261.4 299.9L267.9 306.8L282.8 324.1L291.5 332.3L298.0 336.7L304.8 339.9L312.0 342.0L319.0 342.7L324.3 342.3L329.1 341.2L333.6 339.3L337.7 336.6L370.6 307.9L414.8 268.2L430.7 255.3L444.9 245.0L458.9 236.5L472.7 229.8L485.7 225.1L500.1 221.6L510.0 220.0L520.5 219.0L544.9 218.1L604.5 219.7L611.6 220.4L617.7 221.8L624.1 224.3L631.4 228.4L643.0 236.5L653.3 244.5L660.6 251.1L667.7 258.5L674.3 266.4L680.4 274.7L690.6 291.2L699.8 309.6L708.5 330.6L716.9 355.0L724.5 380.9L730.7 407.0L735.8 433.3L740.0 462.3L744.7 506.9L752.9 608.7L765.0 723.5L769.3 773.6L771.8 823.4L773.9 912.9L775.1 948.2L779.4 1026.6L780.8 1064.3L781.3 1070.7L782.1 1073.1" stroke="#1f1fff" stroke-width="4" stroke-dasharray="20 17" stroke-dashoffset="5.0"/>
<path d="M782.1 1073.1L783.0 1071.1L784.5 1063.7L787.7 1042.7L789.6 1021.8L791.0 998.0L792.2 950.3L795.1 779.1L801.6 547.8L804.5 482.2L806.5 454.3L808.9 428.3L812.7 398.3L816.6 374.3L820.6 357.8L825.6 343.9L828.6 337.8L832.0 331.9L835.6 326.8L840.0 321.5L851.0 310.7L865.4 299.4L874.6 293.1L884.2 287.3L894.1 282.0L904.5 277.0L915.2 272.6L926.4 268.6L937.8 265.1L949.7 262.0L965.7 258.6L982.8 255.8L999.6 253.7L1025.4 251.2L1029.9 251.5L1033.9 250.6L1039.4 250.4L1043.4 250.7L1047.4 249.9L1050.9 250.7L1055.4 249.1L1059.9 248.8L1064.4 250.1L1068.4 248.2L1072.4 249.5L1075.4 248.7L1078.4 248.7L1081.9 248.0L1085.4 249.4L1086.4 249.0L1088.9 246.4L1089.9 246.0L1093.4 247.7L1098.4 248.6L1099.9 248.5L1102.9 246.8L1106.9 248.5L1110.9 246.0L1114.4 247.0L1119.9 247.4L1123.9 244.7L1124.9 244.9L1127.9 247.6L1128.9 247.7L1131.4 246.7L1134.9 246.7L1137.9 245.9L1141.4 246.6L1144.4 244.3L1145.4 243.9L1149.4 246.6L1155.4 245.5L1158.4 244.4L1159.4 244.7L1161.9 246.6L1162.9 246.9L1166.4 244.7L1167.4 244.6L1170.4 245.6L1173.4 244.6L1176.4 244.4L1179.4 243.2L1180.9 243.8L1183.4 246.3L1184.4 246.5L1187.9 244.2L1191.4 244.6L1193.9 244.3L1197.4 245.2L1200.4 243.3L1201.4 243.1L1204.9 245.0L1205.9 244.9L1208.3 243.1L1209.8 242.9L1214.3 243.7L1218.3 245.9L1219.3 245.5L1221.8 243.1L1222.8 242.8L1226.3 244.2L1229.8 243.1L1232.3 243.4L1235.8 242.8L1239.3 244.7L1240.3 244.5L1242.8 242.3L1243.8 241.9L1247.8 244.2L1252.3 244.4L1253.8 244.1L1256.8 242.0L1257.8 242.0L1260.8 243.7L1264.8 241.7L1268.3 243.3L1273.8 244.1L1274.8 243.8L1277.3 241.8L1278.3 241.5L1279.3 242.0L1281.7 244.1L1282.7 244.3L1285.7 242.8L1288.7 242.6L1291.7 241.8L1295.7 243.1L1299.2 241.3L1300.2 241.7L1302.7 244.0L1303.7 244.4L1312.7 241.4L1316.2 243.6L1317.2 243.7L1320.7 241.4L1324.7 242.7L1327.2 242.2L1330.7 242.6L1333.7 241.7L1334.7 242.1L1337.2 244.4L1338.2 244.6L1341.1 242.1L1342.6 241.4L1348.1 241.7L1351.1 242.9L1355.1 241.3L1359.1 243.6L1362.6 241.9L1363.6 241.8L1368.6 242.4L1372.1 243.9L1373.1 243.6L1375.6 241.0L1376.6 240.5L1380.6 242.4L1383.6 242.0L1386.6 242.6L1389.6 242.1L1393.6 244.0L1397.5 241.0L1398.5 241.1L1401.5 242.8L1406.5 242.8L1411.0 240.7L1415.0 243.2L1418.5 241.8L1422.5 243.3L1428.0 243.2L1432.0 240.4L1433.0 240.7L1435.5 243.0L1436.5 243.4L1440.0 242.1L1443.0 242.2L1445.5 241.8L1449.4 243.6L1453.4 241.7L1457.4 244.0L1460.9 242.3L1466.4 240.9L1467.4 241.2L1469.9 243.5L1470.9 243.9L1474.4 241.9L1475.4 242.0L1477.9 243.2L1478.9 243.3L1481.4 242.8L1484.4 243.0L1487.9 241.7L1491.9 244.1L1492.9 243.7L1495.4 241.5L1496.4 241.2L1501.8 242.5L1505.3 244.1L1509.3 242.2L1512.3 243.9L1513.3 244.1L1517.3 241.9L1522.8 242.5L1526.3 244.1L1527.3 243.7L1529.8 241.4L1530.8 241.2L1534.8 243.8L1537.8 243.4L1540.8 243.7L1543.8 242.7L1547.3 244.0L1548.3 243.7L1550.8 241.4L1551.8 241.1L1555.7 243.5L1560.2 243.9L1561.7 243.7L1564.2 242.2L1565.2 242.1L1568.2 244.4L1569.2 244.6L1572.7 242.8L1576.2 243.6L1579.2 243.1L1582.2 243.4L1585.7 241.4L1586.7 241.6L1589.2 244.3L1590.7 245.0L1593.7 243.7L1596.7 243.6L1599.7 243.0L1603.7 244.3L1606.7 242.3L1607.7 242.2L1610.7 244.2L1611.7 244.3L1615.2 243.0L1620.6 242.6L1624.6 245.7L1625.6 245.4L1628.6 243.1L1632.6 243.9L1635.1 243.2L1638.6 243.5L1641.6 242.5L1642.6 242.8L1645.6 245.2L1646.6 245.1L1649.1 243.1L1650.1 242.7L1659.1 245.3L1660.1 244.9L1663.1 242.7L1664.1 242.7L1667.1 244.3L1671.1 242.7L1676.6 243.9L1680.1 245.6L1681.1 245.4L1683.6 243.0L1684.6 242.6L1685.6 242.9L1688.1 244.7L1689.1 244.8L1691.6 244.1L1694.6 244.1L1697.5 242.9L1698.5 243.1L1701.0 244.6L1702.0 244.6L1705.5 242.6L1706.5 242.9L1709.0 244.9L1710.5 245.3L1715.0 245.0L1719.0 242.6L1723.0 245.0L1726.5 243.2L1730.0 244.1L1733.0 244.0L1736.0 244.7L1740.0 243.0L1741.0 243.4L1743.5 245.8L1744.5 246.1L1748.0 244.1L1753.5 243.0L1757.5 244.8L1761.5 243.1L1765.5 245.5L1769.0 244.3L1774.5 243.6L1778.5 246.0L1779.5 245.7L1782.0 243.3L1783.0 242.9L1786.0 244.0L1789.5 243.9L1792.0 244.7L1796.0 244.0L1799.5 246.3L1800.5 246.2L1804.0 243.4L1810.0 244.4L1813.0 245.4L1814.0 245.1L1816.5 243.2L1817.5 243.0L1821.0 245.3L1825.0 244.2L1828.0 245.1L1831.0 245.1L1834.0 246.2L1835.0 245.8L1837.5 243.2L1838.5 242.7L1839.5 243.0L1842.5 245.1L1845.5 244.8L1848.5 245.1L1852.0 244.2L1855.5 246.2L1856.5 246.0L1859.5 244.0L1863.5 246.0L1868.5 245.3L1872.5 243.1L1873.5 243.3L1876.0 245.7L1877.5 246.3L1881.0 244.9L1884.0 245.9L1887.0 245.6L1890.0 246.1L1894.0 244.1L1895.0 244.5L1898.0 247.0L1899.0 247.0L1902.4 245.3L1907.2 245.9L1911.5 249.4L1912.4 249.5L1915.2 248.8L1919.3 252.5L1922.4 252.8L1924.5 254.0" stroke="#1f1fff" stroke-width="4" stroke-dasharray="20 17" stroke-dashoffset="35.4"/>
<path d="M228.3 280.9L231.0 284.5L234.3 287.6L250.7 298.4L254.1 301.2L256.6 304.1L260.3 310.4L266.4 325.0L269.7 331.3L283.0 350.6L291.7 365.1L296.1 371.1L301.0 375.6L306.3 378.8L312.0 380.8L317.4 381.4L320.7 381.0L324.5 379.9L328.1 378.2L331.4 376.0L338.4 370.0L352.9 355.3L361.6 344.6L372.3 327.7L377.0 321.2L381.9 315.7L394.2 303.9L399.8 297.6L407.2 288.2L424.8 263.7L430.5 256.8L436.0 251.0L444.7 243.6L454.6 237.0L465.3 231.5L476.5 227.3L488.6 224.1L502.8 221.8L558.1 217.4L571.6 216.8L583.6 216.9L594.5 217.8L604.8 219.3L615.4 221.9L625.2 225.4L634.7 229.7L643.2 234.8L651.6 241.1L660.2 248.7L668.5 257.4L676.0 266.7L687.0 282.8L697.0 300.8L706.6 321.8L715.2 344.2L722.5 367.5L728.9 392.7L734.5 419.5L739.4 449.6L743.1 477.8L746.4 509.0L756.8 632.3L766.9 730.0L770.2 767.3L772.3 798.5L773.8 833.1L776.1 945.6L777.2 980.7L778.2 991.7L779.7 1000.5L782.1 1008.4L783.2 1010.6L784.1 1011.3" stroke="#ff8c1a" stroke-width="4" stroke-dasharray="20 17" stroke-dashoffset="29.9"/>
<path d="M784.1 1011.3L785.3 1010.2L786.4 1006.7L789.7 990.9L791.8 974.3L793.0 956.1L796.9 763.2L799.3 674.7L805.9 496.2L807.8 463.3L810.4 435.0L813.9 409.1L818.2 385.3L822.4 368.7L827.3 355.3L833.4 343.6L837.0 338.4L840.7 333.9L850.3 324.6L862.2 315.7L877.6 306.4L898.5 295.5L949.0 271.1L958.8 266.8L967.7 263.6L980.3 260.5L995.6 258.5L1019.4 256.6L1023.4 256.7L1027.4 255.8L1032.8 255.4L1037.3 256.0L1040.8 255.1L1044.3 255.8L1047.8 254.6L1051.3 255.1L1054.3 254.5L1057.8 255.2L1061.8 252.6L1062.8 252.7L1065.3 254.1L1068.7 253.8L1072.2 255.2L1075.7 253.6L1078.2 254.8L1079.2 254.7L1082.7 251.6L1083.7 251.8L1086.7 253.7L1089.7 252.8L1092.7 253.6L1095.7 251.1L1096.7 250.9L1100.2 254.2L1101.2 254.2L1103.7 252.8L1107.2 254.2L1110.7 252.1L1113.2 252.5L1114.2 252.3L1116.7 249.8L1117.7 249.6L1118.7 250.3L1120.7 252.8L1121.7 253.4L1124.7 251.9L1128.2 252.5L1131.2 251.0L1132.2 251.3L1134.2 253.1L1135.2 253.4L1138.7 251.0L1142.2 252.8L1143.2 252.4L1145.7 250.1L1146.7 249.9L1149.2 250.4L1151.7 249.3L1153.2 250.1L1155.2 252.8L1156.2 253.5L1157.2 253.2L1159.6 250.9L1160.6 250.9L1163.1 251.9L1166.6 250.2L1170.1 251.3L1173.1 249.4L1174.1 249.6L1176.1 251.3L1177.1 251.7L1178.1 251.2L1180.1 248.9L1181.1 248.4L1184.1 250.1L1187.6 250.4L1190.6 252.7L1191.6 252.4L1194.6 249.4L1195.6 249.4L1198.1 250.7L1199.1 250.2L1201.1 248.4L1202.1 248.1L1205.1 249.6L1208.6 249.0L1211.6 251.0L1212.6 250.7L1215.6 247.8L1216.6 248.0L1219.6 250.6L1222.6 249.8L1225.6 250.7L1226.6 250.3L1229.6 247.7L1233.1 249.1L1236.6 246.5L1237.6 246.9L1240.5 249.8L1243.5 249.3L1246.5 250.1L1250.5 247.1L1251.5 247.5L1253.5 249.6L1254.5 249.9L1258.0 247.6L1261.0 248.6L1264.0 246.9L1265.0 246.7L1268.0 248.0L1271.0 246.3L1272.5 247.0L1275.0 250.2L1276.0 250.4L1279.0 248.2L1282.0 248.2L1285.0 246.1L1286.0 246.1L1289.0 248.2L1290.0 247.9L1292.0 246.1L1293.0 245.9L1296.5 248.2L1299.9 246.3L1302.9 247.4L1305.4 246.6L1306.4 246.7L1309.9 249.8L1310.9 249.3L1313.4 246.2L1314.4 245.7L1317.4 246.4L1320.4 245.0L1321.4 245.3L1323.4 246.7L1324.4 246.9L1327.4 245.7L1330.4 248.2L1331.4 248.4L1334.4 245.6L1335.4 245.4L1338.4 246.9L1341.9 246.4L1344.4 247.8L1345.4 247.5L1347.9 244.5L1348.9 243.9L1352.3 245.9L1355.8 244.5L1359.3 246.9L1362.3 246.3L1365.3 247.8L1366.3 247.6L1368.8 244.4L1369.8 243.8L1370.8 244.1L1372.8 245.9L1373.8 246.2L1376.8 245.0L1379.8 245.9L1382.8 243.7L1383.8 243.6L1386.3 245.7L1387.3 246.1L1390.8 244.3L1393.8 246.9L1394.8 247.2L1397.8 245.8L1400.8 245.7L1404.3 242.4L1405.3 242.7L1408.2 245.6L1409.2 245.5L1411.7 244.0L1415.2 245.5L1418.7 244.2L1421.2 245.7L1422.2 245.8L1425.2 243.8L1426.2 244.1L1428.2 246.2L1429.2 246.8L1430.2 246.4L1433.2 243.6L1436.2 243.6L1439.2 242.3L1443.2 245.7L1446.7 243.9L1450.2 246.1L1451.2 245.8L1453.7 243.9L1457.2 244.5L1460.2 243.2L1461.2 243.5L1463.2 245.5L1464.2 245.7L1465.2 245.1L1467.2 242.6L1468.1 242.0L1471.1 243.6L1474.6 243.4L1477.1 245.4L1478.1 245.8L1481.6 244.0L1484.1 245.6L1485.1 245.8L1486.1 245.1L1488.1 242.6L1489.1 242.0L1492.1 243.4L1495.6 243.2L1498.6 245.1L1499.6 244.8L1502.1 242.2L1503.1 242.1L1506.1 244.8L1507.1 244.8L1509.6 243.7L1513.1 245.3L1516.6 243.6L1519.1 244.5L1520.1 244.4L1523.6 240.8L1524.6 241.1L1527.6 244.2L1530.6 243.8L1534.1 244.9L1537.6 242.8L1541.0 245.1L1542.0 244.8L1544.5 242.7L1545.5 242.9L1547.5 244.4L1548.5 244.7L1551.5 242.9L1555.0 243.1L1558.0 241.1L1559.0 241.5L1561.5 244.9L1562.5 245.6L1566.0 244.0L1568.5 244.8L1569.5 244.8L1572.5 242.9L1576.0 244.0L1579.5 241.8L1580.5 242.3L1582.5 244.5L1583.5 244.9L1587.0 242.4L1590.0 243.3L1593.0 242.7L1594.0 243.2L1596.0 245.5L1597.0 246.1L1598.0 245.8L1600.5 243.4L1601.5 243.3L1603.5 244.4L1604.5 244.4L1608.0 242.0L1611.0 243.1L1613.5 242.4L1614.5 242.4L1618.0 245.7L1618.9 245.3L1620.9 243.1L1621.9 242.5L1625.4 244.4L1628.4 243.8L1631.9 245.4L1635.4 242.6L1636.4 242.7L1638.9 244.2L1639.9 243.8L1641.9 241.8L1642.9 241.4L1646.4 244.0L1649.4 244.2L1652.4 246.1L1653.4 245.9L1655.9 243.0L1656.9 242.6L1660.4 244.9L1663.4 243.3L1664.4 243.2L1666.4 244.3L1667.4 244.4L1670.4 242.8L1673.9 244.5L1677.4 242.1L1678.4 242.5L1680.9 245.6L1681.9 246.1L1684.9 245.2L1687.9 245.4L1691.4 242.5L1692.4 242.7L1694.4 244.4L1695.4 244.7L1697.9 242.9L1698.9 242.6L1702.3 245.2L1705.8 244.0L1708.8 245.0L1712.3 243.3L1713.3 243.9L1715.3 246.4L1716.3 247.0L1717.3 246.6L1719.8 244.3L1723.3 244.4L1726.3 242.7L1727.3 242.9L1729.8 244.7L1730.8 244.6L1732.8 243.5L1733.8 243.6L1736.3 246.4L1737.3 247.0L1738.3 246.7L1740.8 244.6L1744.3 245.1L1746.8 244.1L1747.8 244.3L1750.3 246.5L1751.3 246.6L1754.3 243.6L1755.3 243.3L1758.3 245.0L1761.8 243.7L1765.3 245.8L1768.3 245.3L1771.8 248.0L1772.8 247.6L1775.3 244.3L1776.2 243.8L1779.2 245.2L1782.7 244.6L1785.7 246.3L1786.7 246.0L1788.7 244.3L1789.7 244.1L1793.2 246.6L1796.7 244.7L1797.7 245.0L1800.2 247.1L1803.7 246.6L1806.2 247.5L1807.2 247.1L1809.7 244.0L1810.7 243.3L1811.7 243.7L1814.2 246.0L1815.2 246.1L1817.7 245.2L1821.2 247.1L1824.7 246.0L1827.7 247.7L1828.7 247.4L1830.7 245.5L1831.7 245.1L1832.7 245.6L1834.7 247.7L1836.2 248.0L1838.7 246.5L1842.2 246.3L1845.1 244.1L1846.1 244.5L1849.1 247.7L1850.1 247.6L1852.6 246.4L1856.1 248.8L1857.1 248.7L1859.6 247.1L1863.1 247.4L1866.1 245.3L1867.1 245.6L1870.1 248.7L1871.1 248.5L1874.1 246.0L1877.1 247.0L1880.1 246.3L1881.1 246.7L1884.1 249.2L1887.6 247.5L1891.1 249.9L1892.1 249.5L1895.1 246.5L1898.1 247.0L1900.5 246.3L1902.0 246.9L1904.0 249.1L1905.0 249.6L1906.0 249.2L1908.0 247.3L1909.0 247.0L1912.5 249.2L1915.5 248.1L1919.0 249.7L1922.5 248.3L1924.5 249.5" stroke="#ff8c1a" stroke-width="4" stroke-dasharray="20 17" stroke-dashoffset="22.8"/>
<path d="M228.3 262.1L230.0 267.4L233.0 272.3L237.3 277.1L248.3 287.4L253.0 292.7L258.7 300.3L273.4 322.4L278.6 329.0L283.7 334.5L291.7 341.2L300.4 346.5L309.5 349.9L314.4 351.0L318.8 351.5L323.2 351.5L327.5 350.9L331.7 349.8L336.2 348.0L345.2 342.7L355.7 334.4L367.9 323.1L380.1 310.4L391.8 297.2L413.7 271.3L422.7 261.3L432.2 252.1L441.2 244.9L453.2 237.6L466.3 231.6L481.1 226.9L498.0 223.2L514.9 220.7L536.9 218.3L555.1 216.9L570.5 216.4L583.2 216.7L595.1 217.8L606.2 219.7L616.0 222.4L625.8 226.3L635.2 231.2L644.5 237.4L653.6 244.8L662.5 253.5L670.8 262.9L679.1 273.8L687.0 285.6L696.9 303.2L706.1 322.9L714.2 344.0L721.2 366.4L727.2 390.0L732.4 415.8L736.8 443.8L740.8 475.9L761.5 688.3L766.5 748.0L770.2 801.2L773.6 870.9L776.0 977.9L777.2 999.1L780.1 1036.3L781.0 1052.1L781.3 1130.8L781.8 1149.7L782.5 1156.1" stroke="#ff1a8c" stroke-width="4" stroke-dasharray="20 17" stroke-dashoffset="21.0"/>
<path d="M782.5 1156.1L783.7 1146.5L785.2 1121.4L789.2 1028.8L791.2 971.5L793.5 882.2L797.7 678.0L800.4 582.7L804.0 498.8L808.1 434.0L810.9 408.2L814.5 385.6L819.3 364.7L824.9 346.5L830.2 334.7L836.3 325.1L844.7 315.7L855.8 306.1L864.7 299.4L874.3 293.1L884.2 287.3L894.8 281.9L905.7 277.0L917.3 272.4L929.6 268.2L942.5 264.4L968.3 258.4L996.9 253.6L1021.1 250.9L1025.1 250.1L1031.0 249.8L1034.5 250.2L1038.5 249.1L1042.0 249.5L1046.0 248.2L1048.9 248.5L1051.9 248.2L1055.4 248.9L1059.4 246.9L1063.4 248.6L1066.4 248.1L1069.4 248.5L1072.9 246.8L1076.9 247.7L1080.4 245.2L1081.3 245.5L1083.8 247.6L1084.8 247.9L1087.3 247.5L1090.3 247.9L1093.3 245.7L1094.3 245.6L1097.8 248.4L1098.8 248.2L1101.3 246.3L1102.3 246.2L1104.8 247.1L1108.3 245.7L1111.3 246.5L1114.8 244.6L1115.8 245.1L1118.3 248.3L1119.3 248.8L1122.3 246.9L1125.8 246.8L1128.8 245.5L1131.8 247.2L1132.8 247.3L1136.3 244.9L1139.8 247.2L1140.8 247.0L1143.3 245.5L1146.8 246.1L1149.3 245.6L1150.3 246.0L1152.8 248.6L1153.8 248.8L1154.8 248.2L1156.8 245.8L1157.8 245.3L1160.8 246.2L1164.3 245.0L1167.3 246.2L1170.8 245.0L1171.8 245.5L1173.8 247.5L1174.8 247.8L1175.8 247.3L1177.8 245.2L1178.8 244.8L1181.8 246.4L1184.8 246.3L1187.8 247.6L1188.8 247.4L1191.3 244.7L1192.3 244.1L1195.8 246.0L1196.8 245.8L1198.8 244.5L1199.8 244.4L1202.8 246.2L1205.8 246.0L1209.3 247.6L1213.3 244.0L1214.3 244.3L1216.3 246.1L1217.3 246.5L1220.3 245.5L1223.8 245.7L1226.8 243.9L1227.8 244.2L1229.8 245.8L1230.8 246.1L1234.3 244.1L1235.3 244.5L1237.8 246.9L1238.8 247.1L1241.3 246.2L1244.3 246.0L1247.3 243.4L1248.3 243.2L1251.8 246.1L1252.8 245.9L1255.3 244.2L1256.3 244.2L1258.8 245.4L1262.3 244.5L1265.3 245.7L1266.3 245.5L1268.3 244.1L1269.3 244.0L1272.3 246.9L1273.3 247.1L1276.7 244.2L1279.7 244.0L1282.7 243.0L1286.7 245.6L1290.2 243.7L1291.2 244.1L1293.2 245.8L1294.2 246.1L1297.7 244.2L1300.7 244.6L1303.7 243.7L1304.7 244.1L1306.7 245.9L1307.7 246.1L1308.7 245.5L1310.7 243.0L1312.2 242.4L1315.2 243.9L1318.2 243.5L1321.7 245.3L1325.2 244.0L1328.7 246.0L1329.7 245.5L1332.2 242.7L1333.1 242.4L1335.6 243.6L1339.1 243.6L1342.1 244.9L1343.1 244.5L1346.1 242.0L1347.1 242.3L1349.1 244.2L1350.1 244.7L1353.6 243.4L1356.6 244.8L1360.1 243.9L1363.1 244.8L1364.1 244.2L1366.6 241.3L1367.6 241.0L1370.6 243.7L1371.6 244.1L1374.6 243.5L1377.6 244.1L1381.1 242.6L1384.5 244.8L1385.5 244.5L1387.5 242.8L1388.5 242.4L1391.5 244.4L1392.5 244.5L1395.5 243.0L1398.5 242.8L1401.5 240.9L1402.5 241.1L1405.0 244.2L1406.0 244.8L1407.0 244.6L1409.5 243.1L1412.5 244.1L1413.5 244.0L1416.0 242.9L1419.5 243.7L1423.0 241.5L1424.0 241.9L1426.0 244.0L1427.0 244.4L1431.0 241.8L1434.0 242.3L1436.4 242.0L1437.4 242.4L1440.4 245.0L1441.4 244.8L1443.9 242.6L1444.9 242.6L1447.9 244.1L1451.9 241.7L1454.4 242.3L1457.9 241.7L1461.4 244.6L1462.4 244.3L1464.9 241.7L1465.9 241.4L1468.9 243.3L1472.4 243.1L1474.9 244.2L1476.4 243.9L1478.9 242.0L1479.9 242.2L1481.9 243.5L1482.9 243.6L1485.9 240.9L1486.9 240.6L1489.9 242.6L1492.9 243.0L1496.3 244.6L1497.3 244.1L1499.3 241.9L1500.3 241.5L1501.3 242.0L1503.3 243.8L1504.3 244.0L1507.8 242.3L1510.8 243.2L1514.3 242.1L1517.3 243.3L1518.3 242.8L1520.3 240.9L1521.3 240.7L1522.3 241.3L1524.8 244.2L1525.8 244.6L1528.3 243.7L1531.3 243.9L1534.8 241.7L1535.8 241.8L1537.8 243.4L1538.8 243.6L1542.3 241.3L1543.3 241.6L1545.3 243.3L1546.3 243.7L1549.3 242.6L1552.8 243.0L1555.8 241.6L1556.8 242.1L1559.8 245.3L1560.8 245.1L1563.8 242.7L1566.7 243.1L1570.2 241.7L1573.7 243.0L1576.7 241.5L1577.7 241.9L1580.2 244.6L1581.2 245.0L1584.2 242.8L1585.2 242.5L1587.7 243.1L1590.7 242.6L1593.7 244.7L1594.7 244.9L1597.7 242.0L1598.7 241.6L1601.7 243.3L1602.7 243.2L1605.2 241.9L1606.2 242.0L1608.7 243.2L1611.7 243.0L1615.2 245.6L1616.2 245.4L1618.7 242.5L1619.7 241.9L1623.2 243.4L1626.2 242.9L1629.2 243.9L1633.2 241.9L1636.7 244.2L1637.7 243.9L1639.7 242.3L1640.7 242.1L1644.2 244.4L1647.2 244.3L1649.7 245.1L1651.2 244.4L1653.1 242.0L1654.1 241.3L1655.1 241.5L1658.1 243.9L1661.6 242.6L1664.6 243.9L1668.1 243.2L1671.1 244.7L1672.1 244.5L1675.1 242.2L1676.1 242.6L1678.6 245.2L1679.6 245.4L1682.6 243.8L1685.6 243.5L1688.6 241.6L1689.6 241.8L1692.6 244.4L1693.6 244.3L1695.6 243.0L1696.6 242.9L1700.1 245.3L1703.6 244.0L1706.6 244.1L1709.6 242.3L1710.6 242.6L1713.1 245.2L1714.1 245.5L1717.6 242.7L1721.1 243.4L1723.6 242.8L1724.6 243.1L1727.6 245.0L1731.1 243.5L1734.1 245.9L1735.1 246.1L1738.1 243.4L1739.1 242.9L1741.6 243.3L1744.6 242.8L1748.6 245.4L1749.6 244.9L1751.6 242.9L1752.6 242.6L1756.1 244.8L1759.1 243.8L1762.6 245.0L1766.1 244.1L1769.1 245.8L1770.6 245.1L1773.0 242.0L1774.0 241.8L1777.0 243.8L1780.0 243.9L1783.0 245.4L1784.0 245.3L1787.0 243.5L1788.0 243.8L1790.0 245.5L1791.0 245.7L1794.5 243.2L1798.0 244.9L1801.0 244.3L1804.0 244.8L1808.0 241.8L1809.0 242.2L1811.5 245.1L1812.5 245.5L1815.5 244.5L1819.0 245.5L1822.0 244.2L1825.5 245.2L1829.0 242.5L1830.0 242.7L1832.5 245.3L1833.5 245.6L1836.5 244.2L1839.5 244.4L1842.0 243.3L1843.0 243.3L1846.0 246.2L1847.0 246.7L1850.5 244.6L1854.0 246.1L1857.5 244.4L1860.4 244.6L1863.4 243.3L1864.4 243.7L1866.9 246.7L1867.9 247.3L1868.9 247.0L1870.9 245.3L1871.9 245.0L1874.9 246.1L1878.4 245.9L1881.4 247.6L1885.3 245.6L1888.8 247.9L1892.8 245.3L1895.8 246.6L1898.7 247.1L1902.2 250.2L1903.2 250.1L1905.7 247.8L1906.7 247.6L1910.1 249.7L1913.1 248.7L1916.6 249.9L1919.6 249.2L1920.5 249.5L1923.0 251.6L1924.5 251.4" stroke="#ff1a8c" stroke-width="4" stroke-dasharray="20 17" stroke-dashoffset="27.2"/>
<path d="M1390.3 250.8 L1393.4 259.1 L1395.4 272.6 L1397.4 259.1 L1400.5 250.8" stroke="#ff8c1a" stroke-width="4" fill="none"/>
<path d="M1658.7 244.1 L1661.2 250.1 L1663.2 256.1 L1665.3 250.1 L1667.8 244.1" stroke="#1f1fff" stroke-width="4" fill="none"/>
</g>
<rect x="226.3" y="27" width="1700" height="4" fill="#050505"/>
<rect x="226.3" y="27" width="4" height="1320" fill="#050505"/>
<rect x="1922" y="29" width="8" height="1321" fill="#767676"/>
<rect x="226.3" y="1343.2" width="1700" height="3.4" fill="#3a3a3a"/>
<rect x="226.3" y="1346.6" width="1703.7" height="3.4" fill="#8a8a8a"/>
<rect x="277.1" y="1335.5" width="3.6" height="8" fill="#444"/>
<rect x="403.7" y="1327" width="3.6" height="17" fill="#1e1e1e"/>
<rect x="530.3" y="1335.5" width="3.6" height="8" fill="#444"/>
<rect x="656.9" y="1327" width="3.6" height="17" fill="#1e1e1e"/>
<rect x="783.5" y="1335.5" width="3.6" height="8" fill="#444"/>
<rect x="910.0" y="1327" width="3.6" height="17" fill="#1e1e1e"/>
<rect x="1036.6" y="1335.5" width="3.6" height="8" fill="#444"/>
<rect x="1163.2" y="1327" width="3.6" height="17" fill="#1e1e1e"/>
<rect x="1289.8" y="1335.5" width="3.6" height="8" fill="#444"/>
<rect x="1416.4" y="1327" width="3.6" height="17" fill="#1e1e1e"/>
<rect x="1543.0" y="1335.5" width="3.6" height="8" fill="#444"/>
<rect x="1669.5" y="1327" width="3.6" height="17" fill="#1e1e1e"/>
<rect x="1796.1" y="1335.5" width="3.6" height="8" fill="#444"/>
<rect x="1922.7" y="1327" width="3.6" height="17" fill="#1e1e1e"/>
<rect x="230" y="1233.5" width="20" height="3.6" fill="#1e1e1e"/>
<rect x="230" y="1123.8" width="10" height="3.6" fill="#333"/>
<rect x="230" y="1014.2" width="20" height="3.6" fill="#1e1e1e"/>
<rect x="230" y="904.5" width="10" height="3.6" fill="#333"/>
<rect x="230" y="794.8" width="20" height="3.6" fill="#1e1e1e"/>
<rect x="230" y="685.1" width="10" height="3.6" fill="#333"/>
<rect x="230" y="575.5" width="20" height="3.6" fill="#1e1e1e"/>
<rect x="230" y="465.8" width="10" height="3.6" fill="#333"/>
<rect x="230" y="356.1" width="20" height="3.6" fill="#1e1e1e"/>
<rect x="230" y="246.5" width="10" height="3.6" fill="#333"/>
<rect x="230" y="136.8" width="20" height="3.6" fill="#1e1e1e"/>
<rect x="1905" y="215.2" width="17" height="3.6" fill="#1e1e1e"/>
<rect x="1913" y="403.2" width="9" height="3.6" fill="#333"/>
<rect x="1905" y="591.2" width="17" height="3.6" fill="#1e1e1e"/>
<rect x="1913" y="779.2" width="9" height="3.6" fill="#333"/>
<rect x="1905" y="967.2" width="17" height="3.6" fill="#1e1e1e"/>
<rect x="1913" y="1155.2" width="9" height="3.6" fill="#333"/>
<g class="tl">
<text x="405.5" y="1405" text-anchor="middle">100</text>
<text x="658.7" y="1405" text-anchor="middle">200</text>
<text x="911.8" y="1405" text-anchor="middle">300</text>
<text x="1165.0" y="1405" text-anchor="middle">400</text>
<text x="1418.2" y="1405" text-anchor="middle">500</text>
<text x="1671.3" y="1405" text-anchor="middle">600</text>
<text x="1924.5" y="1405" text-anchor="middle">700</text>
<text x="206" y="1248.8" text-anchor="end">0</text>
<text x="206" y="1029.5" text-anchor="end">20</text>
<text x="206" y="810.1" text-anchor="end">40</text>
<text x="206" y="590.8" text-anchor="end">60</text>
<text x="206" y="371.4" text-anchor="end">80</text>
<text x="206" y="152.1" text-anchor="end">100</text>
<text x="1948.5" y="230.5">0</text>
<text x="1946" y="606.5">-5</text>
<text x="1946" y="982.5">-10</text>
<text x="1946" y="1358.5">-15</text>
</g>
<text class="at" x="1076" y="1498" text-anchor="middle">Temperature (ºC)</text>
<text class="at" transform="translate(76.5,725) rotate(-90)" text-anchor="middle">Weight (%)</text>
<text class="at" transform="translate(2083.5,715) rotate(-90)" text-anchor="middle">DTG (%/min)</text>
<text class="pl" x="262" y="1309">c</text>
<rect x="1185" y="1010" width="706.5" height="297" fill="#fff" stroke="#7a7a7a" stroke-width="3.6"/>
<text class="lg" x="1225" y="1062">Weight</text>
<text class="lg" x="1565" y="1062">DTG</text>
<line x1="1224" y1="1096" x2="1316" y2="1096" stroke="#6e6e6e" stroke-width="7"/>
<line x1="1562" y1="1096" x2="1655" y2="1096" stroke="#1a1a1a" stroke-width="4.5" stroke-dasharray="20 17"/>
<text class="lg" x="1328" y="1110.5">CS</text>
<text class="lg" x="1665" y="1110.5">CS</text>
<line x1="1224" y1="1145.7" x2="1316" y2="1145.7" stroke="#1f1fff" stroke-width="4.5"/>
<line x1="1562" y1="1145.7" x2="1655" y2="1145.7" stroke="#1f1fff" stroke-width="4.5" stroke-dasharray="20 17"/>
<text class="lg" x="1328" y="1160">CS10</text>
<text class="lg" x="1665" y="1160">CS10</text>
<line x1="1224" y1="1195.8" x2="1316" y2="1195.8" stroke="#ff8c1a" stroke-width="4.5"/>
<line x1="1562" y1="1195.8" x2="1655" y2="1195.8" stroke="#ff8c1a" stroke-width="4.5" stroke-dasharray="20 17"/>
<text class="lg" x="1328" y="1211.1">CS10VA<tspan class="sub" dy="13">in-situ</tspan></text>
<text class="lg" x="1665" y="1211.1">CS10VA<tspan class="sub" dy="13">in-situ</tspan></text>
<line x1="1224" y1="1258.9" x2="1316" y2="1258.9" stroke="#ff1a8c" stroke-width="4.5"/>
<line x1="1562" y1="1258.9" x2="1655" y2="1258.9" stroke="#ff1a8c" stroke-width="4.5" stroke-dasharray="20 17"/>
<text class="lg" x="1328" y="1270.8">CS10VA<tspan class="sub" dy="13">post</tspan></text>
<text class="lg" x="1665" y="1270.8">CS10VA<tspan class="sub" dy="13">post</tspan></text>
</g>
</svg></body></html>
